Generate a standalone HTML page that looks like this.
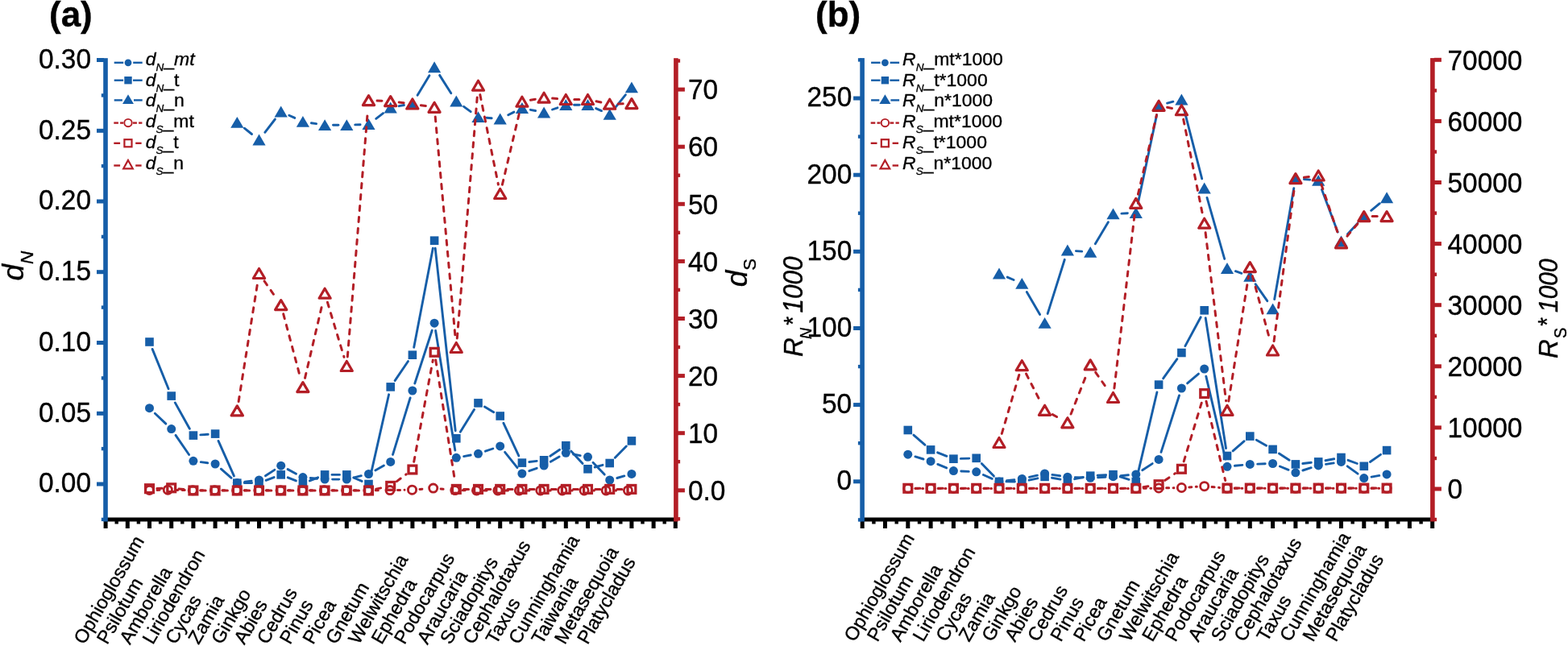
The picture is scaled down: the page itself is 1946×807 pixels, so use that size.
<!DOCTYPE html>
<html><head><meta charset="utf-8"><title>dN dS plots</title>
<style>html,body{margin:0;padding:0;background:#fff;} svg{display:block;} text{stroke:#000;stroke-width:0.35px;}</style>
</head><body>
<svg width="1946" height="807" viewBox="0 0 1946 807" font-family="'Liberation Sans', Arial, sans-serif">
<rect width="1946" height="807" fill="#fff"/>
<rect x="131.0" y="642.5" width="707.9" height="5" fill="#000"/>
<rect x="128.6" y="647" width="5" height="9" fill="#000"/>
<rect x="142.5" y="647" width="4.4" height="3.5" fill="#000"/>
<rect x="155.8" y="647" width="5" height="9" fill="#000"/>
<rect x="169.7" y="647" width="4.4" height="3.5" fill="#000"/>
<rect x="183.0" y="647" width="5" height="9" fill="#000"/>
<rect x="196.9" y="647" width="4.4" height="3.5" fill="#000"/>
<rect x="210.2" y="647" width="5" height="9" fill="#000"/>
<rect x="224.1" y="647" width="4.4" height="3.5" fill="#000"/>
<rect x="237.4" y="647" width="5" height="9" fill="#000"/>
<rect x="251.3" y="647" width="4.4" height="3.5" fill="#000"/>
<rect x="264.6" y="647" width="5" height="9" fill="#000"/>
<rect x="278.5" y="647" width="4.4" height="3.5" fill="#000"/>
<rect x="291.8" y="647" width="5" height="9" fill="#000"/>
<rect x="305.7" y="647" width="4.4" height="3.5" fill="#000"/>
<rect x="319.0" y="647" width="5" height="9" fill="#000"/>
<rect x="332.9" y="647" width="4.4" height="3.5" fill="#000"/>
<rect x="346.2" y="647" width="5" height="9" fill="#000"/>
<rect x="360.1" y="647" width="4.4" height="3.5" fill="#000"/>
<rect x="373.4" y="647" width="5" height="9" fill="#000"/>
<rect x="387.3" y="647" width="4.4" height="3.5" fill="#000"/>
<rect x="400.6" y="647" width="5" height="9" fill="#000"/>
<rect x="414.5" y="647" width="4.4" height="3.5" fill="#000"/>
<rect x="427.8" y="647" width="5" height="9" fill="#000"/>
<rect x="441.7" y="647" width="4.4" height="3.5" fill="#000"/>
<rect x="455.0" y="647" width="5" height="9" fill="#000"/>
<rect x="468.9" y="647" width="4.4" height="3.5" fill="#000"/>
<rect x="482.2" y="647" width="5" height="9" fill="#000"/>
<rect x="496.1" y="647" width="4.4" height="3.5" fill="#000"/>
<rect x="509.4" y="647" width="5" height="9" fill="#000"/>
<rect x="523.3" y="647" width="4.4" height="3.5" fill="#000"/>
<rect x="536.6" y="647" width="5" height="9" fill="#000"/>
<rect x="550.5" y="647" width="4.4" height="3.5" fill="#000"/>
<rect x="563.8" y="647" width="5" height="9" fill="#000"/>
<rect x="577.7" y="647" width="4.4" height="3.5" fill="#000"/>
<rect x="591.0" y="647" width="5" height="9" fill="#000"/>
<rect x="604.9" y="647" width="4.4" height="3.5" fill="#000"/>
<rect x="618.2" y="647" width="5" height="9" fill="#000"/>
<rect x="632.1" y="647" width="4.4" height="3.5" fill="#000"/>
<rect x="645.4" y="647" width="5" height="9" fill="#000"/>
<rect x="659.3" y="647" width="4.4" height="3.5" fill="#000"/>
<rect x="672.6" y="647" width="5" height="9" fill="#000"/>
<rect x="686.5" y="647" width="4.4" height="3.5" fill="#000"/>
<rect x="699.8" y="647" width="5" height="9" fill="#000"/>
<rect x="713.7" y="647" width="4.4" height="3.5" fill="#000"/>
<rect x="727.0" y="647" width="5" height="9" fill="#000"/>
<rect x="740.9" y="647" width="4.4" height="3.5" fill="#000"/>
<rect x="754.2" y="647" width="5" height="9" fill="#000"/>
<rect x="768.1" y="647" width="4.4" height="3.5" fill="#000"/>
<rect x="781.4" y="647" width="5" height="9" fill="#000"/>
<rect x="795.3" y="647" width="4.4" height="3.5" fill="#000"/>
<rect x="808.6" y="647" width="5" height="9" fill="#000"/>
<rect x="822.5" y="647" width="4.4" height="3.5" fill="#000"/>
<rect x="835.8" y="647" width="5" height="9" fill="#000"/>
<rect x="128.2" y="72.2" width="5.6" height="575.3" fill="#165ea8"/>
<rect x="120.0" y="598.5" width="9" height="5" fill="#165ea8"/>
<text transform="translate(113.0,611.3) scale(1,1.06)" font-size="33.4" text-anchor="end">0.00</text>
<rect x="120.0" y="510.8" width="9" height="5" fill="#165ea8"/>
<text transform="translate(113.0,523.5) scale(1,1.06)" font-size="33.4" text-anchor="end">0.05</text>
<rect x="120.0" y="423.0" width="9" height="5" fill="#165ea8"/>
<text transform="translate(113.0,435.8) scale(1,1.06)" font-size="33.4" text-anchor="end">0.10</text>
<rect x="120.0" y="335.2" width="9" height="5" fill="#165ea8"/>
<text transform="translate(113.0,348.1) scale(1,1.06)" font-size="33.4" text-anchor="end">0.15</text>
<rect x="120.0" y="247.5" width="9" height="5" fill="#165ea8"/>
<text transform="translate(113.0,260.3) scale(1,1.06)" font-size="33.4" text-anchor="end">0.20</text>
<rect x="120.0" y="159.8" width="9" height="5" fill="#165ea8"/>
<text transform="translate(113.0,172.6) scale(1,1.06)" font-size="33.4" text-anchor="end">0.25</text>
<rect x="120.0" y="72.0" width="9" height="5" fill="#165ea8"/>
<text transform="translate(113.0,84.8) scale(1,1.06)" font-size="33.4" text-anchor="end">0.30</text>
<rect x="125.8" y="642.7" width="4" height="4.4" fill="#165ea8"/>
<rect x="125.8" y="554.9" width="4" height="4.4" fill="#165ea8"/>
<rect x="125.8" y="467.2" width="4" height="4.4" fill="#165ea8"/>
<rect x="125.8" y="379.4" width="4" height="4.4" fill="#165ea8"/>
<rect x="125.8" y="291.7" width="4" height="4.4" fill="#165ea8"/>
<rect x="125.8" y="203.9" width="4" height="4.4" fill="#165ea8"/>
<rect x="125.8" y="116.2" width="4" height="4.4" fill="#165ea8"/>
<rect x="836.1" y="72.2" width="5.6" height="575.3" fill="#b31e26"/>
<rect x="840.9" y="606.3" width="9" height="5" fill="#b31e26"/>
<text transform="translate(854.0,621.0) scale(1,1.06)" font-size="33.4" text-anchor="start">0.0</text>
<rect x="840.9" y="535.2" width="9" height="5" fill="#b31e26"/>
<text transform="translate(854.0,549.9) scale(1,1.06)" font-size="33.4" text-anchor="start">10</text>
<rect x="840.9" y="464.1" width="9" height="5" fill="#b31e26"/>
<text transform="translate(854.0,478.8) scale(1,1.06)" font-size="33.4" text-anchor="start">20</text>
<rect x="840.9" y="393.0" width="9" height="5" fill="#b31e26"/>
<text transform="translate(854.0,407.7) scale(1,1.06)" font-size="33.4" text-anchor="start">30</text>
<rect x="840.9" y="321.9" width="9" height="5" fill="#b31e26"/>
<text transform="translate(854.0,336.6) scale(1,1.06)" font-size="33.4" text-anchor="start">40</text>
<rect x="840.9" y="250.8" width="9" height="5" fill="#b31e26"/>
<text transform="translate(854.0,265.5) scale(1,1.06)" font-size="33.4" text-anchor="start">50</text>
<rect x="840.9" y="179.7" width="9" height="5" fill="#b31e26"/>
<text transform="translate(854.0,194.4) scale(1,1.06)" font-size="33.4" text-anchor="start">60</text>
<rect x="840.9" y="108.6" width="9" height="5" fill="#b31e26"/>
<text transform="translate(854.0,123.3) scale(1,1.06)" font-size="33.4" text-anchor="start">70</text>
<rect x="840.1" y="642.1" width="4" height="4.4" fill="#b31e26"/>
<rect x="840.1" y="571.0" width="4" height="4.4" fill="#b31e26"/>
<rect x="840.1" y="499.9" width="4" height="4.4" fill="#b31e26"/>
<rect x="840.1" y="428.8" width="4" height="4.4" fill="#b31e26"/>
<rect x="840.1" y="357.7" width="4" height="4.4" fill="#b31e26"/>
<rect x="840.1" y="286.6" width="4" height="4.4" fill="#b31e26"/>
<rect x="840.1" y="215.5" width="4" height="4.4" fill="#b31e26"/>
<rect x="840.1" y="144.4" width="4" height="4.4" fill="#b31e26"/>
<rect x="840.1" y="73.3" width="4" height="4.4" fill="#b31e26"/>
<rect x="1070.1" y="642.5" width="707.8" height="5" fill="#000"/>
<rect x="1067.7" y="647" width="5" height="9" fill="#000"/>
<rect x="1082.2" y="647" width="4.4" height="3.5" fill="#000"/>
<rect x="1096.0" y="647" width="5" height="9" fill="#000"/>
<rect x="1110.5" y="647" width="4.4" height="3.5" fill="#000"/>
<rect x="1124.3" y="647" width="5" height="9" fill="#000"/>
<rect x="1138.8" y="647" width="4.4" height="3.5" fill="#000"/>
<rect x="1152.6" y="647" width="5" height="9" fill="#000"/>
<rect x="1167.1" y="647" width="4.4" height="3.5" fill="#000"/>
<rect x="1180.9" y="647" width="5" height="9" fill="#000"/>
<rect x="1195.4" y="647" width="4.4" height="3.5" fill="#000"/>
<rect x="1209.2" y="647" width="5" height="9" fill="#000"/>
<rect x="1223.7" y="647" width="4.4" height="3.5" fill="#000"/>
<rect x="1237.5" y="647" width="5" height="9" fill="#000"/>
<rect x="1252.0" y="647" width="4.4" height="3.5" fill="#000"/>
<rect x="1265.8" y="647" width="5" height="9" fill="#000"/>
<rect x="1280.2" y="647" width="4.4" height="3.5" fill="#000"/>
<rect x="1294.1" y="647" width="5" height="9" fill="#000"/>
<rect x="1308.6" y="647" width="4.4" height="3.5" fill="#000"/>
<rect x="1322.4" y="647" width="5" height="9" fill="#000"/>
<rect x="1336.9" y="647" width="4.4" height="3.5" fill="#000"/>
<rect x="1350.7" y="647" width="5" height="9" fill="#000"/>
<rect x="1365.2" y="647" width="4.4" height="3.5" fill="#000"/>
<rect x="1379.0" y="647" width="5" height="9" fill="#000"/>
<rect x="1393.5" y="647" width="4.4" height="3.5" fill="#000"/>
<rect x="1407.3" y="647" width="5" height="9" fill="#000"/>
<rect x="1421.8" y="647" width="4.4" height="3.5" fill="#000"/>
<rect x="1435.6" y="647" width="5" height="9" fill="#000"/>
<rect x="1450.1" y="647" width="4.4" height="3.5" fill="#000"/>
<rect x="1463.9" y="647" width="5" height="9" fill="#000"/>
<rect x="1478.4" y="647" width="4.4" height="3.5" fill="#000"/>
<rect x="1492.2" y="647" width="5" height="9" fill="#000"/>
<rect x="1506.7" y="647" width="4.4" height="3.5" fill="#000"/>
<rect x="1520.5" y="647" width="5" height="9" fill="#000"/>
<rect x="1535.0" y="647" width="4.4" height="3.5" fill="#000"/>
<rect x="1548.8" y="647" width="5" height="9" fill="#000"/>
<rect x="1563.3" y="647" width="4.4" height="3.5" fill="#000"/>
<rect x="1577.1" y="647" width="5" height="9" fill="#000"/>
<rect x="1591.6" y="647" width="4.4" height="3.5" fill="#000"/>
<rect x="1605.4" y="647" width="5" height="9" fill="#000"/>
<rect x="1619.9" y="647" width="4.4" height="3.5" fill="#000"/>
<rect x="1633.7" y="647" width="5" height="9" fill="#000"/>
<rect x="1648.2" y="647" width="4.4" height="3.5" fill="#000"/>
<rect x="1662.0" y="647" width="5" height="9" fill="#000"/>
<rect x="1676.5" y="647" width="4.4" height="3.5" fill="#000"/>
<rect x="1690.3" y="647" width="5" height="9" fill="#000"/>
<rect x="1704.8" y="647" width="4.4" height="3.5" fill="#000"/>
<rect x="1718.6" y="647" width="5" height="9" fill="#000"/>
<rect x="1733.0" y="647" width="4.4" height="3.5" fill="#000"/>
<rect x="1746.9" y="647" width="5" height="9" fill="#000"/>
<rect x="1761.4" y="647" width="4.4" height="3.5" fill="#000"/>
<rect x="1775.2" y="647" width="5" height="9" fill="#000"/>
<rect x="1067.3" y="72.1" width="5.6" height="575.4" fill="#165ea8"/>
<rect x="1059.1" y="595.3" width="9" height="5" fill="#165ea8"/>
<text transform="translate(1057.2,608.1) scale(1,1.06)" font-size="33.4" text-anchor="end">0</text>
<rect x="1059.1" y="500.1" width="9" height="5" fill="#165ea8"/>
<text transform="translate(1057.2,512.9) scale(1,1.06)" font-size="33.4" text-anchor="end">50</text>
<rect x="1059.1" y="405.0" width="9" height="5" fill="#165ea8"/>
<text transform="translate(1057.2,417.8) scale(1,1.06)" font-size="33.4" text-anchor="end">100</text>
<rect x="1059.1" y="309.8" width="9" height="5" fill="#165ea8"/>
<text transform="translate(1057.2,322.6) scale(1,1.06)" font-size="33.4" text-anchor="end">150</text>
<rect x="1059.1" y="214.7" width="9" height="5" fill="#165ea8"/>
<text transform="translate(1057.2,227.5) scale(1,1.06)" font-size="33.4" text-anchor="end">200</text>
<rect x="1059.1" y="119.5" width="9" height="5" fill="#165ea8"/>
<text transform="translate(1057.2,132.3) scale(1,1.06)" font-size="33.4" text-anchor="end">250</text>
<rect x="1064.9" y="643.2" width="4" height="4.4" fill="#165ea8"/>
<rect x="1064.9" y="548.0" width="4" height="4.4" fill="#165ea8"/>
<rect x="1064.9" y="452.9" width="4" height="4.4" fill="#165ea8"/>
<rect x="1064.9" y="357.7" width="4" height="4.4" fill="#165ea8"/>
<rect x="1064.9" y="262.5" width="4" height="4.4" fill="#165ea8"/>
<rect x="1064.9" y="167.4" width="4" height="4.4" fill="#165ea8"/>
<rect x="1064.9" y="72.2" width="4" height="4.4" fill="#165ea8"/>
<rect x="1775.1" y="72.1" width="5.6" height="575.4" fill="#b31e26"/>
<rect x="1779.9" y="604.5" width="9" height="5" fill="#b31e26"/>
<text transform="translate(1796.5,619.2) scale(1,1.06)" font-size="33.4" text-anchor="start">0</text>
<rect x="1779.9" y="528.4" width="9" height="5" fill="#b31e26"/>
<text transform="translate(1796.5,543.1) scale(1,1.06)" font-size="33.4" text-anchor="start">10000</text>
<rect x="1779.9" y="452.3" width="9" height="5" fill="#b31e26"/>
<text transform="translate(1796.5,467.0) scale(1,1.06)" font-size="33.4" text-anchor="start">20000</text>
<rect x="1779.9" y="376.2" width="9" height="5" fill="#b31e26"/>
<text transform="translate(1796.5,390.9) scale(1,1.06)" font-size="33.4" text-anchor="start">30000</text>
<rect x="1779.9" y="300.1" width="9" height="5" fill="#b31e26"/>
<text transform="translate(1796.5,314.8) scale(1,1.06)" font-size="33.4" text-anchor="start">40000</text>
<rect x="1779.9" y="224.0" width="9" height="5" fill="#b31e26"/>
<text transform="translate(1796.5,238.7) scale(1,1.06)" font-size="33.4" text-anchor="start">50000</text>
<rect x="1779.9" y="147.9" width="9" height="5" fill="#b31e26"/>
<text transform="translate(1796.5,162.6) scale(1,1.06)" font-size="33.4" text-anchor="start">60000</text>
<rect x="1779.9" y="71.8" width="9" height="5" fill="#b31e26"/>
<text transform="translate(1796.5,86.5) scale(1,1.06)" font-size="33.4" text-anchor="start">70000</text>
<rect x="1779.1" y="642.8" width="4" height="4.4" fill="#b31e26"/>
<rect x="1779.1" y="566.8" width="4" height="4.4" fill="#b31e26"/>
<rect x="1779.1" y="490.7" width="4" height="4.4" fill="#b31e26"/>
<rect x="1779.1" y="414.6" width="4" height="4.4" fill="#b31e26"/>
<rect x="1779.1" y="338.5" width="4" height="4.4" fill="#b31e26"/>
<rect x="1779.1" y="262.4" width="4" height="4.4" fill="#b31e26"/>
<rect x="1779.1" y="186.3" width="4" height="4.4" fill="#b31e26"/>
<rect x="1779.1" y="110.2" width="4" height="4.4" fill="#b31e26"/>
<line x1="192.3" y1="513.2" x2="205.9" y2="526.1" stroke="#165ea8" stroke-width="2.9" stroke-linecap="round"/>
<line x1="218.0" y1="540.4" x2="234.6" y2="564.5" stroke="#165ea8" stroke-width="2.9" stroke-linecap="round"/>
<line x1="249.3" y1="573.6" x2="257.7" y2="574.7" stroke="#165ea8" stroke-width="2.9" stroke-linecap="round"/>
<line x1="274.3" y1="582.2" x2="287.1" y2="593.3" stroke="#165ea8" stroke-width="2.9" stroke-linecap="round"/>
<line x1="303.7" y1="598.3" x2="312.1" y2="597.1" stroke="#165ea8" stroke-width="2.9" stroke-linecap="round"/>
<line x1="329.4" y1="590.7" x2="340.8" y2="583.4" stroke="#165ea8" stroke-width="2.9" stroke-linecap="round"/>
<line x1="357.1" y1="582.6" x2="367.5" y2="588.2" stroke="#165ea8" stroke-width="2.9" stroke-linecap="round"/>
<line x1="385.3" y1="593.5" x2="393.7" y2="594.2" stroke="#165ea8" stroke-width="2.9" stroke-linecap="round"/>
<line x1="412.6" y1="595.1" x2="420.8" y2="595.1" stroke="#165ea8" stroke-width="2.9" stroke-linecap="round"/>
<line x1="439.5" y1="592.9" x2="448.3" y2="590.7" stroke="#165ea8" stroke-width="2.9" stroke-linecap="round"/>
<line x1="465.8" y1="583.9" x2="476.4" y2="578.0" stroke="#165ea8" stroke-width="2.9" stroke-linecap="round"/>
<line x1="487.5" y1="564.4" x2="509.1" y2="494.0" stroke="#165ea8" stroke-width="2.9" stroke-linecap="round"/>
<line x1="514.8" y1="476.0" x2="536.2" y2="410.2" stroke="#165ea8" stroke-width="2.9" stroke-linecap="round"/>
<line x1="540.6" y1="410.5" x2="564.8" y2="559.0" stroke="#165ea8" stroke-width="2.9" stroke-linecap="round"/>
<line x1="575.6" y1="566.6" x2="584.2" y2="565.0" stroke="#165ea8" stroke-width="2.9" stroke-linecap="round"/>
<line x1="602.4" y1="560.2" x2="611.8" y2="557.0" stroke="#165ea8" stroke-width="2.9" stroke-linecap="round"/>
<line x1="626.6" y1="561.3" x2="642.0" y2="580.6" stroke="#165ea8" stroke-width="2.9" stroke-linecap="round"/>
<line x1="656.8" y1="584.7" x2="666.2" y2="581.3" stroke="#165ea8" stroke-width="2.9" stroke-linecap="round"/>
<line x1="683.3" y1="573.3" x2="694.1" y2="567.0" stroke="#165ea8" stroke-width="2.9" stroke-linecap="round"/>
<line x1="711.6" y1="564.0" x2="720.2" y2="565.6" stroke="#165ea8" stroke-width="2.9" stroke-linecap="round"/>
<line x1="736.0" y1="574.2" x2="750.2" y2="589.1" stroke="#165ea8" stroke-width="2.9" stroke-linecap="round"/>
<line x1="765.8" y1="593.5" x2="774.8" y2="590.9" stroke="#165ea8" stroke-width="2.9" stroke-linecap="round"/>
<circle cx="185.5" cy="506.7" r="5.50" fill="#165ea8"/>
<circle cx="212.7" cy="532.6" r="5.50" fill="#165ea8"/>
<circle cx="239.9" cy="572.3" r="5.50" fill="#165ea8"/>
<circle cx="267.1" cy="576.0" r="5.50" fill="#165ea8"/>
<circle cx="294.3" cy="599.5" r="5.50" fill="#165ea8"/>
<circle cx="321.5" cy="595.9" r="5.50" fill="#165ea8"/>
<circle cx="348.7" cy="578.2" r="5.50" fill="#165ea8"/>
<circle cx="375.9" cy="592.6" r="5.50" fill="#165ea8"/>
<circle cx="403.1" cy="595.1" r="5.50" fill="#165ea8"/>
<circle cx="430.3" cy="595.1" r="5.50" fill="#165ea8"/>
<circle cx="457.5" cy="588.5" r="5.50" fill="#165ea8"/>
<circle cx="484.7" cy="573.4" r="5.50" fill="#165ea8"/>
<circle cx="511.9" cy="485.0" r="5.50" fill="#165ea8"/>
<circle cx="539.1" cy="401.2" r="5.50" fill="#165ea8"/>
<circle cx="566.3" cy="568.3" r="5.50" fill="#165ea8"/>
<circle cx="593.5" cy="563.3" r="5.50" fill="#165ea8"/>
<circle cx="620.7" cy="553.9" r="5.50" fill="#165ea8"/>
<circle cx="647.9" cy="588.0" r="5.50" fill="#165ea8"/>
<circle cx="675.1" cy="578.0" r="5.50" fill="#165ea8"/>
<circle cx="702.3" cy="562.3" r="5.50" fill="#165ea8"/>
<circle cx="729.5" cy="567.3" r="5.50" fill="#165ea8"/>
<circle cx="756.7" cy="596.0" r="5.50" fill="#165ea8"/>
<circle cx="783.9" cy="588.4" r="5.50" fill="#165ea8"/>
<line x1="189.1" y1="433.4" x2="209.1" y2="482.7" stroke="#165ea8" stroke-width="2.9" stroke-linecap="round"/>
<line x1="217.3" y1="499.9" x2="235.3" y2="532.3" stroke="#165ea8" stroke-width="2.9" stroke-linecap="round"/>
<line x1="248.8" y1="539.9" x2="258.2" y2="539.3" stroke="#165ea8" stroke-width="2.9" stroke-linecap="round"/>
<line x1="271.0" y1="547.4" x2="290.4" y2="590.9" stroke="#165ea8" stroke-width="2.9" stroke-linecap="round"/>
<line x1="303.2" y1="599.6" x2="312.6" y2="599.6" stroke="#165ea8" stroke-width="2.9" stroke-linecap="round"/>
<line x1="330.1" y1="596.3" x2="340.1" y2="592.6" stroke="#165ea8" stroke-width="2.9" stroke-linecap="round"/>
<line x1="357.2" y1="592.8" x2="367.4" y2="596.9" stroke="#165ea8" stroke-width="2.9" stroke-linecap="round"/>
<line x1="384.4" y1="596.9" x2="394.6" y2="592.8" stroke="#165ea8" stroke-width="2.9" stroke-linecap="round"/>
<line x1="412.0" y1="589.4" x2="421.4" y2="589.4" stroke="#165ea8" stroke-width="2.9" stroke-linecap="round"/>
<line x1="438.7" y1="593.0" x2="449.1" y2="597.4" stroke="#165ea8" stroke-width="2.9" stroke-linecap="round"/>
<line x1="459.6" y1="591.6" x2="482.6" y2="489.8" stroke="#165ea8" stroke-width="2.9" stroke-linecap="round"/>
<line x1="490.1" y1="472.6" x2="506.5" y2="448.5" stroke="#165ea8" stroke-width="2.9" stroke-linecap="round"/>
<line x1="513.7" y1="431.2" x2="537.3" y2="308.2" stroke="#165ea8" stroke-width="2.9" stroke-linecap="round"/>
<line x1="540.2" y1="308.3" x2="565.2" y2="534.7" stroke="#165ea8" stroke-width="2.9" stroke-linecap="round"/>
<line x1="571.3" y1="536.2" x2="588.5" y2="508.5" stroke="#165ea8" stroke-width="2.9" stroke-linecap="round"/>
<line x1="601.5" y1="505.1" x2="612.7" y2="511.8" stroke="#165ea8" stroke-width="2.9" stroke-linecap="round"/>
<line x1="624.8" y1="525.2" x2="643.8" y2="565.9" stroke="#165ea8" stroke-width="2.9" stroke-linecap="round"/>
<line x1="656.8" y1="573.5" x2="666.2" y2="572.4" stroke="#165ea8" stroke-width="2.9" stroke-linecap="round"/>
<line x1="682.8" y1="566.2" x2="694.6" y2="558.3" stroke="#165ea8" stroke-width="2.9" stroke-linecap="round"/>
<line x1="708.7" y1="560.1" x2="723.1" y2="575.4" stroke="#165ea8" stroke-width="2.9" stroke-linecap="round"/>
<line x1="738.2" y1="580.0" x2="748.0" y2="577.3" stroke="#165ea8" stroke-width="2.9" stroke-linecap="round"/>
<line x1="763.3" y1="568.3" x2="777.3" y2="554.1" stroke="#165ea8" stroke-width="2.9" stroke-linecap="round"/>
<rect x="180.2" y="419.2" width="10.6" height="10.6" fill="#165ea8"/>
<rect x="207.4" y="486.3" width="10.6" height="10.6" fill="#165ea8"/>
<rect x="234.6" y="535.3" width="10.6" height="10.6" fill="#165ea8"/>
<rect x="261.8" y="533.3" width="10.6" height="10.6" fill="#165ea8"/>
<rect x="289.0" y="594.4" width="10.6" height="10.6" fill="#165ea8"/>
<rect x="316.2" y="594.2" width="10.6" height="10.6" fill="#165ea8"/>
<rect x="343.4" y="584.1" width="10.6" height="10.6" fill="#165ea8"/>
<rect x="370.6" y="595.0" width="10.6" height="10.6" fill="#165ea8"/>
<rect x="397.8" y="584.1" width="10.6" height="10.6" fill="#165ea8"/>
<rect x="425.0" y="584.1" width="10.6" height="10.6" fill="#165ea8"/>
<rect x="452.2" y="595.7" width="10.6" height="10.6" fill="#165ea8"/>
<rect x="479.4" y="475.1" width="10.6" height="10.6" fill="#165ea8"/>
<rect x="506.6" y="435.4" width="10.6" height="10.6" fill="#165ea8"/>
<rect x="533.8" y="293.4" width="10.6" height="10.6" fill="#165ea8"/>
<rect x="561.0" y="539.0" width="10.6" height="10.6" fill="#165ea8"/>
<rect x="588.2" y="495.1" width="10.6" height="10.6" fill="#165ea8"/>
<rect x="615.4" y="511.2" width="10.6" height="10.6" fill="#165ea8"/>
<rect x="642.6" y="569.3" width="10.6" height="10.6" fill="#165ea8"/>
<rect x="669.8" y="566.0" width="10.6" height="10.6" fill="#165ea8"/>
<rect x="697.0" y="547.9" width="10.6" height="10.6" fill="#165ea8"/>
<rect x="724.2" y="577.0" width="10.6" height="10.6" fill="#165ea8"/>
<rect x="751.4" y="569.7" width="10.6" height="10.6" fill="#165ea8"/>
<rect x="778.6" y="542.1" width="10.6" height="10.6" fill="#165ea8"/>
<line x1="303.3" y1="159.2" x2="312.5" y2="166.5" stroke="#165ea8" stroke-width="2.9" stroke-linecap="round"/>
<line x1="328.8" y1="164.3" x2="341.4" y2="148.0" stroke="#165ea8" stroke-width="2.9" stroke-linecap="round"/>
<line x1="358.8" y1="143.2" x2="365.8" y2="146.4" stroke="#165ea8" stroke-width="2.9" stroke-linecap="round"/>
<line x1="386.4" y1="152.7" x2="392.6" y2="153.6" stroke="#165ea8" stroke-width="2.9" stroke-linecap="round"/>
<line x1="413.5" y1="155.3" x2="419.9" y2="155.3" stroke="#165ea8" stroke-width="2.9" stroke-linecap="round"/>
<line x1="440.7" y1="154.9" x2="447.1" y2="154.7" stroke="#165ea8" stroke-width="2.9" stroke-linecap="round"/>
<line x1="466.7" y1="147.3" x2="475.5" y2="140.6" stroke="#165ea8" stroke-width="2.9" stroke-linecap="round"/>
<line x1="495.2" y1="131.7" x2="501.4" y2="130.5" stroke="#165ea8" stroke-width="2.9" stroke-linecap="round"/>
<line x1="518.1" y1="118.3" x2="532.9" y2="93.7" stroke="#165ea8" stroke-width="2.9" stroke-linecap="round"/>
<line x1="545.6" y1="93.4" x2="559.8" y2="115.7" stroke="#165ea8" stroke-width="2.9" stroke-linecap="round"/>
<line x1="575.6" y1="132.4" x2="584.2" y2="138.6" stroke="#165ea8" stroke-width="2.9" stroke-linecap="round"/>
<line x1="604.0" y1="146.2" x2="610.2" y2="146.7" stroke="#165ea8" stroke-width="2.9" stroke-linecap="round"/>
<line x1="630.7" y1="142.7" x2="637.9" y2="139.1" stroke="#165ea8" stroke-width="2.9" stroke-linecap="round"/>
<line x1="658.4" y1="136.3" x2="664.6" y2="137.5" stroke="#165ea8" stroke-width="2.9" stroke-linecap="round"/>
<line x1="685.5" y1="136.0" x2="691.9" y2="133.8" stroke="#165ea8" stroke-width="2.9" stroke-linecap="round"/>
<line x1="712.6" y1="130.2" x2="719.1" y2="130.2" stroke="#165ea8" stroke-width="2.9" stroke-linecap="round"/>
<line x1="739.7" y1="134.6" x2="746.5" y2="137.6" stroke="#165ea8" stroke-width="2.9" stroke-linecap="round"/>
<line x1="764.2" y1="132.8" x2="776.4" y2="117.7" stroke="#165ea8" stroke-width="2.9" stroke-linecap="round"/>
<polygon points="294.3,144.9 286.2,158.8 302.4,158.8" fill="#165ea8"/>
<polygon points="321.5,166.6 313.4,180.5 329.6,180.5" fill="#165ea8"/>
<polygon points="348.7,131.5 340.6,145.4 356.8,145.4" fill="#165ea8"/>
<polygon points="375.9,143.9 367.8,157.8 384.0,157.8" fill="#165ea8"/>
<polygon points="403.1,148.2 395.0,162.1 411.2,162.1" fill="#165ea8"/>
<polygon points="430.3,148.2 422.2,162.1 438.4,162.1" fill="#165ea8"/>
<polygon points="457.5,147.2 449.4,161.1 465.6,161.1" fill="#165ea8"/>
<polygon points="484.7,126.5 476.6,140.4 492.8,140.4" fill="#165ea8"/>
<polygon points="511.9,121.5 503.8,135.4 520.0,135.4" fill="#165ea8"/>
<polygon points="539.1,76.3 531.0,90.2 547.2,90.2" fill="#165ea8"/>
<polygon points="566.3,118.6 558.2,132.5 574.4,132.5" fill="#165ea8"/>
<polygon points="593.5,138.2 585.4,152.1 601.6,152.1" fill="#165ea8"/>
<polygon points="620.7,140.5 612.6,154.4 628.8,154.4" fill="#165ea8"/>
<polygon points="647.9,127.1 639.8,141.0 656.0,141.0" fill="#165ea8"/>
<polygon points="675.1,132.5 667.0,146.4 683.2,146.4" fill="#165ea8"/>
<polygon points="702.3,123.1 694.2,137.0 710.4,137.0" fill="#165ea8"/>
<polygon points="729.5,123.1 721.4,137.0 737.6,137.0" fill="#165ea8"/>
<polygon points="756.7,134.9 748.6,148.8 764.8,148.8" fill="#165ea8"/>
<polygon points="783.9,101.4 775.8,115.3 792.0,115.3" fill="#165ea8"/>
<line x1="195.0" y1="608.4" x2="198.8" y2="608.3" stroke="#b31e26" stroke-width="3" stroke-dasharray="3 5.5" stroke-dashoffset="0" stroke-linecap="round"/>
<line x1="217.8" y1="608.4" x2="229.7" y2="608.6" stroke="#b31e26" stroke-width="3" stroke-dasharray="3 5.5" stroke-dashoffset="0" stroke-linecap="round"/>
<line x1="248.7" y1="608.8" x2="257.0" y2="608.8" stroke="#b31e26" stroke-width="3" stroke-dasharray="3 5.5" stroke-dashoffset="0" stroke-linecap="round"/>
<line x1="275.9" y1="608.8" x2="284.2" y2="608.8" stroke="#b31e26" stroke-width="3" stroke-dasharray="3 5.5" stroke-dashoffset="0" stroke-linecap="round"/>
<line x1="303.1" y1="608.8" x2="311.4" y2="608.8" stroke="#b31e26" stroke-width="3" stroke-dasharray="3 5.5" stroke-dashoffset="0" stroke-linecap="round"/>
<line x1="330.2" y1="608.8" x2="338.6" y2="608.8" stroke="#b31e26" stroke-width="3" stroke-dasharray="3 5.5" stroke-dashoffset="0" stroke-linecap="round"/>
<line x1="357.4" y1="608.8" x2="365.8" y2="608.8" stroke="#b31e26" stroke-width="3" stroke-dasharray="3 5.5" stroke-dashoffset="0" stroke-linecap="round"/>
<line x1="384.6" y1="608.8" x2="393.0" y2="608.8" stroke="#b31e26" stroke-width="3" stroke-dasharray="3 5.5" stroke-dashoffset="0" stroke-linecap="round"/>
<line x1="411.9" y1="608.8" x2="420.1" y2="608.8" stroke="#b31e26" stroke-width="3" stroke-dasharray="3 5.5" stroke-dashoffset="0" stroke-linecap="round"/>
<line x1="439.0" y1="608.8" x2="447.4" y2="608.8" stroke="#b31e26" stroke-width="3" stroke-dasharray="3 5.5" stroke-dashoffset="0" stroke-linecap="round"/>
<line x1="466.3" y1="608.7" x2="474.5" y2="608.7" stroke="#b31e26" stroke-width="3" stroke-dasharray="3 5.5" stroke-dashoffset="0" stroke-linecap="round"/>
<line x1="493.5" y1="608.5" x2="502.0" y2="608.3" stroke="#b31e26" stroke-width="3" stroke-dasharray="3 5.5" stroke-dashoffset="0" stroke-linecap="round"/>
<line x1="520.9" y1="607.4" x2="528.3" y2="606.9" stroke="#b31e26" stroke-width="3" stroke-dasharray="3 5.5" stroke-dashoffset="0" stroke-linecap="round"/>
<line x1="547.1" y1="607.0" x2="555.4" y2="607.7" stroke="#b31e26" stroke-width="3" stroke-dasharray="3 5.5" stroke-dashoffset="0" stroke-linecap="round"/>
<line x1="574.3" y1="608.7" x2="582.0" y2="608.8" stroke="#b31e26" stroke-width="3" stroke-dasharray="3 5.5" stroke-dashoffset="0" stroke-linecap="round"/>
<line x1="601.0" y1="608.9" x2="608.5" y2="608.9" stroke="#b31e26" stroke-width="3" stroke-dasharray="3 5.5" stroke-dashoffset="0" stroke-linecap="round"/>
<line x1="627.4" y1="608.9" x2="634.9" y2="608.9" stroke="#b31e26" stroke-width="3" stroke-dasharray="3 5.5" stroke-dashoffset="0" stroke-linecap="round"/>
<line x1="653.9" y1="608.9" x2="661.3" y2="608.9" stroke="#b31e26" stroke-width="3" stroke-dasharray="3 5.5" stroke-dashoffset="0" stroke-linecap="round"/>
<line x1="680.2" y1="608.9" x2="688.3" y2="608.9" stroke="#b31e26" stroke-width="3" stroke-dasharray="3 5.5" stroke-dashoffset="0" stroke-linecap="round"/>
<line x1="707.2" y1="608.9" x2="715.5" y2="608.9" stroke="#b31e26" stroke-width="3" stroke-dasharray="3 5.5" stroke-dashoffset="0" stroke-linecap="round"/>
<line x1="734.5" y1="608.9" x2="742.7" y2="608.9" stroke="#b31e26" stroke-width="3" stroke-dasharray="3 5.5" stroke-dashoffset="0" stroke-linecap="round"/>
<line x1="761.6" y1="608.9" x2="769.9" y2="608.9" stroke="#b31e26" stroke-width="3" stroke-dasharray="3 5.5" stroke-dashoffset="0" stroke-linecap="round"/>
<circle cx="185.5" cy="608.5" r="5.10" fill="none" stroke="#b31e26" stroke-width="2.80"/>
<circle cx="208.3" cy="608.2" r="5.10" fill="none" stroke="#b31e26" stroke-width="2.80"/>
<circle cx="239.2" cy="608.8" r="5.10" fill="none" stroke="#b31e26" stroke-width="2.80"/>
<circle cx="266.4" cy="608.8" r="5.10" fill="none" stroke="#b31e26" stroke-width="2.80"/>
<circle cx="293.6" cy="608.8" r="5.10" fill="none" stroke="#b31e26" stroke-width="2.80"/>
<circle cx="320.8" cy="608.8" r="5.10" fill="none" stroke="#b31e26" stroke-width="2.80"/>
<circle cx="348.0" cy="608.8" r="5.10" fill="none" stroke="#b31e26" stroke-width="2.80"/>
<circle cx="375.2" cy="608.8" r="5.10" fill="none" stroke="#b31e26" stroke-width="2.80"/>
<circle cx="402.4" cy="608.8" r="5.10" fill="none" stroke="#b31e26" stroke-width="2.80"/>
<circle cx="429.6" cy="608.8" r="5.10" fill="none" stroke="#b31e26" stroke-width="2.80"/>
<circle cx="456.8" cy="608.8" r="5.10" fill="none" stroke="#b31e26" stroke-width="2.80"/>
<circle cx="484.0" cy="608.6" r="5.10" fill="none" stroke="#b31e26" stroke-width="2.80"/>
<circle cx="511.5" cy="608.2" r="5.10" fill="none" stroke="#b31e26" stroke-width="2.80"/>
<circle cx="537.7" cy="606.1" r="5.10" fill="none" stroke="#b31e26" stroke-width="2.80"/>
<circle cx="564.8" cy="608.6" r="5.10" fill="none" stroke="#b31e26" stroke-width="2.80"/>
<circle cx="591.5" cy="608.9" r="5.10" fill="none" stroke="#b31e26" stroke-width="2.80"/>
<circle cx="617.9" cy="608.9" r="5.10" fill="none" stroke="#b31e26" stroke-width="2.80"/>
<circle cx="644.4" cy="608.9" r="5.10" fill="none" stroke="#b31e26" stroke-width="2.80"/>
<circle cx="670.8" cy="608.9" r="5.10" fill="none" stroke="#b31e26" stroke-width="2.80"/>
<circle cx="697.8" cy="608.9" r="5.10" fill="none" stroke="#b31e26" stroke-width="2.80"/>
<circle cx="725.0" cy="608.9" r="5.10" fill="none" stroke="#b31e26" stroke-width="2.80"/>
<circle cx="752.2" cy="608.9" r="5.10" fill="none" stroke="#b31e26" stroke-width="2.80"/>
<circle cx="779.4" cy="608.9" r="5.10" fill="none" stroke="#b31e26" stroke-width="2.80"/>
<line x1="194.8" y1="606.4" x2="203.4" y2="606.1" stroke="#b31e26" stroke-width="3" stroke-dasharray="6 8" stroke-dashoffset="0" stroke-linecap="round"/>
<line x1="222.0" y1="606.9" x2="230.6" y2="607.9" stroke="#b31e26" stroke-width="3" stroke-dasharray="6 8" stroke-dashoffset="0" stroke-linecap="round"/>
<line x1="249.2" y1="609.0" x2="257.9" y2="609.0" stroke="#b31e26" stroke-width="3" stroke-dasharray="6 8" stroke-dashoffset="0" stroke-linecap="round"/>
<line x1="276.4" y1="609.0" x2="285.1" y2="609.0" stroke="#b31e26" stroke-width="3" stroke-dasharray="6 8" stroke-dashoffset="0" stroke-linecap="round"/>
<line x1="303.6" y1="609.0" x2="312.2" y2="609.0" stroke="#b31e26" stroke-width="3" stroke-dasharray="6 8" stroke-dashoffset="0" stroke-linecap="round"/>
<line x1="330.8" y1="609.0" x2="339.4" y2="609.0" stroke="#b31e26" stroke-width="3" stroke-dasharray="6 8" stroke-dashoffset="0" stroke-linecap="round"/>
<line x1="357.9" y1="609.0" x2="366.6" y2="609.0" stroke="#b31e26" stroke-width="3" stroke-dasharray="6 8" stroke-dashoffset="0" stroke-linecap="round"/>
<line x1="385.1" y1="609.0" x2="393.9" y2="609.0" stroke="#b31e26" stroke-width="3" stroke-dasharray="6 8" stroke-dashoffset="0" stroke-linecap="round"/>
<line x1="412.4" y1="609.0" x2="421.0" y2="609.0" stroke="#b31e26" stroke-width="3" stroke-dasharray="6 8" stroke-dashoffset="0" stroke-linecap="round"/>
<line x1="439.5" y1="609.0" x2="448.2" y2="609.0" stroke="#b31e26" stroke-width="3" stroke-dasharray="6 8" stroke-dashoffset="0" stroke-linecap="round"/>
<line x1="466.7" y1="607.1" x2="475.5" y2="605.3" stroke="#b31e26" stroke-width="3" stroke-dasharray="6 8" stroke-dashoffset="0" stroke-linecap="round"/>
<line x1="492.4" y1="597.6" x2="504.2" y2="588.8" stroke="#b31e26" stroke-width="3" stroke-dasharray="6 8" stroke-dashoffset="0" stroke-linecap="round"/>
<line x1="513.7" y1="573.3" x2="537.3" y2="447.0" stroke="#b31e26" stroke-width="3" stroke-dasharray="6 8" stroke-dashoffset="0" stroke-linecap="round"/>
<line x1="540.7" y1="447.0" x2="564.7" y2="597.7" stroke="#b31e26" stroke-width="3" stroke-dasharray="6 8" stroke-dashoffset="0" stroke-linecap="round"/>
<line x1="575.5" y1="607.4" x2="584.2" y2="607.4" stroke="#b31e26" stroke-width="3" stroke-dasharray="6 8" stroke-dashoffset="0" stroke-linecap="round"/>
<line x1="602.8" y1="607.4" x2="611.5" y2="607.4" stroke="#b31e26" stroke-width="3" stroke-dasharray="6 8" stroke-dashoffset="0" stroke-linecap="round"/>
<line x1="630.0" y1="607.4" x2="638.6" y2="607.4" stroke="#b31e26" stroke-width="3" stroke-dasharray="6 8" stroke-dashoffset="0" stroke-linecap="round"/>
<line x1="657.1" y1="607.4" x2="665.8" y2="607.4" stroke="#b31e26" stroke-width="3" stroke-dasharray="6 8" stroke-dashoffset="0" stroke-linecap="round"/>
<line x1="684.3" y1="607.4" x2="693.0" y2="607.4" stroke="#b31e26" stroke-width="3" stroke-dasharray="6 8" stroke-dashoffset="0" stroke-linecap="round"/>
<line x1="711.5" y1="607.4" x2="720.2" y2="607.4" stroke="#b31e26" stroke-width="3" stroke-dasharray="6 8" stroke-dashoffset="0" stroke-linecap="round"/>
<line x1="738.8" y1="607.4" x2="747.4" y2="607.4" stroke="#b31e26" stroke-width="3" stroke-dasharray="6 8" stroke-dashoffset="0" stroke-linecap="round"/>
<line x1="765.9" y1="607.4" x2="774.6" y2="607.4" stroke="#b31e26" stroke-width="3" stroke-dasharray="6 8" stroke-dashoffset="0" stroke-linecap="round"/>
<rect x="180.6" y="601.8" width="9.8" height="9.8" fill="none" stroke="#b31e26" stroke-width="3.30"/>
<rect x="207.8" y="600.9" width="9.8" height="9.8" fill="none" stroke="#b31e26" stroke-width="3.30"/>
<rect x="235.0" y="604.1" width="9.8" height="9.8" fill="none" stroke="#b31e26" stroke-width="3.30"/>
<rect x="262.2" y="604.1" width="9.8" height="9.8" fill="none" stroke="#b31e26" stroke-width="3.30"/>
<rect x="289.4" y="604.1" width="9.8" height="9.8" fill="none" stroke="#b31e26" stroke-width="3.30"/>
<rect x="316.6" y="604.1" width="9.8" height="9.8" fill="none" stroke="#b31e26" stroke-width="3.30"/>
<rect x="343.8" y="604.1" width="9.8" height="9.8" fill="none" stroke="#b31e26" stroke-width="3.30"/>
<rect x="371.0" y="604.1" width="9.8" height="9.8" fill="none" stroke="#b31e26" stroke-width="3.30"/>
<rect x="398.2" y="604.1" width="9.8" height="9.8" fill="none" stroke="#b31e26" stroke-width="3.30"/>
<rect x="425.4" y="604.1" width="9.8" height="9.8" fill="none" stroke="#b31e26" stroke-width="3.30"/>
<rect x="452.6" y="604.1" width="9.8" height="9.8" fill="none" stroke="#b31e26" stroke-width="3.30"/>
<rect x="479.8" y="598.5" width="9.8" height="9.8" fill="none" stroke="#b31e26" stroke-width="3.30"/>
<rect x="507.0" y="578.1" width="9.8" height="9.8" fill="none" stroke="#b31e26" stroke-width="3.30"/>
<rect x="534.2" y="432.4" width="9.8" height="9.8" fill="none" stroke="#b31e26" stroke-width="3.30"/>
<rect x="561.4" y="602.5" width="9.8" height="9.8" fill="none" stroke="#b31e26" stroke-width="3.30"/>
<rect x="588.6" y="602.5" width="9.8" height="9.8" fill="none" stroke="#b31e26" stroke-width="3.30"/>
<rect x="615.8" y="602.5" width="9.8" height="9.8" fill="none" stroke="#b31e26" stroke-width="3.30"/>
<rect x="643.0" y="602.5" width="9.8" height="9.8" fill="none" stroke="#b31e26" stroke-width="3.30"/>
<rect x="670.2" y="602.5" width="9.8" height="9.8" fill="none" stroke="#b31e26" stroke-width="3.30"/>
<rect x="697.4" y="602.5" width="9.8" height="9.8" fill="none" stroke="#b31e26" stroke-width="3.30"/>
<rect x="724.6" y="602.5" width="9.8" height="9.8" fill="none" stroke="#b31e26" stroke-width="3.30"/>
<rect x="751.8" y="602.5" width="9.8" height="9.8" fill="none" stroke="#b31e26" stroke-width="3.30"/>
<rect x="779.0" y="602.5" width="9.8" height="9.8" fill="none" stroke="#b31e26" stroke-width="3.30"/>
<line x1="296.1" y1="498.4" x2="319.7" y2="351.0" stroke="#b31e26" stroke-width="3" stroke-dasharray="6 8" stroke-dashoffset="0" stroke-linecap="round"/>
<line x1="328.0" y1="348.9" x2="342.2" y2="369.2" stroke="#b31e26" stroke-width="3" stroke-dasharray="6 8" stroke-dashoffset="0" stroke-linecap="round"/>
<line x1="351.7" y1="389.8" x2="372.9" y2="469.4" stroke="#b31e26" stroke-width="3" stroke-dasharray="6 8" stroke-dashoffset="0" stroke-linecap="round"/>
<line x1="378.5" y1="469.3" x2="400.5" y2="375.5" stroke="#b31e26" stroke-width="3" stroke-dasharray="6 8" stroke-dashoffset="0" stroke-linecap="round"/>
<line x1="406.4" y1="375.3" x2="427.0" y2="443.4" stroke="#b31e26" stroke-width="3" stroke-dasharray="6 8" stroke-dashoffset="0" stroke-linecap="round"/>
<line x1="431.3" y1="442.9" x2="456.5" y2="136.2" stroke="#b31e26" stroke-width="3" stroke-dasharray="6 8" stroke-dashoffset="0" stroke-linecap="round"/>
<line x1="468.0" y1="125.0" x2="474.2" y2="125.2" stroke="#b31e26" stroke-width="3" stroke-dasharray="6 8" stroke-dashoffset="0" stroke-linecap="round"/>
<line x1="495.2" y1="126.9" x2="501.4" y2="127.7" stroke="#b31e26" stroke-width="3" stroke-dasharray="6 8" stroke-dashoffset="0" stroke-linecap="round"/>
<line x1="522.4" y1="130.7" x2="528.6" y2="131.6" stroke="#b31e26" stroke-width="3" stroke-dasharray="6 8" stroke-dashoffset="0" stroke-linecap="round"/>
<line x1="540.2" y1="144.9" x2="565.2" y2="419.9" stroke="#b31e26" stroke-width="3" stroke-dasharray="6 8" stroke-dashoffset="0" stroke-linecap="round"/>
<line x1="567.3" y1="419.9" x2="592.5" y2="117.8" stroke="#b31e26" stroke-width="3" stroke-dasharray="6 8" stroke-dashoffset="0" stroke-linecap="round"/>
<line x1="595.8" y1="117.6" x2="618.4" y2="229.1" stroke="#b31e26" stroke-width="3" stroke-dasharray="6 8" stroke-dashoffset="0" stroke-linecap="round"/>
<line x1="623.4" y1="229.2" x2="645.2" y2="137.5" stroke="#b31e26" stroke-width="3" stroke-dasharray="6 8" stroke-dashoffset="0" stroke-linecap="round"/>
<line x1="658.4" y1="124.3" x2="664.6" y2="123.1" stroke="#b31e26" stroke-width="3" stroke-dasharray="6 8" stroke-dashoffset="0" stroke-linecap="round"/>
<line x1="685.6" y1="122.1" x2="691.8" y2="122.6" stroke="#b31e26" stroke-width="3" stroke-dasharray="6 8" stroke-dashoffset="0" stroke-linecap="round"/>
<line x1="712.8" y1="123.5" x2="719.0" y2="123.5" stroke="#b31e26" stroke-width="3" stroke-dasharray="6 8" stroke-dashoffset="0" stroke-linecap="round"/>
<line x1="740.0" y1="125.7" x2="746.2" y2="127.0" stroke="#b31e26" stroke-width="3" stroke-dasharray="6 8" stroke-dashoffset="0" stroke-linecap="round"/>
<line x1="767.2" y1="129.0" x2="773.4" y2="128.8" stroke="#b31e26" stroke-width="3" stroke-dasharray="6 8" stroke-dashoffset="0" stroke-linecap="round"/>
<polygon points="294.3,503.9 287.2,515.9 301.4,515.9" fill="none" stroke="#b31e26" stroke-width="3.2" stroke-linejoin="round"/>
<polygon points="321.5,333.5 314.4,345.5 328.6,345.5" fill="none" stroke="#b31e26" stroke-width="3.2" stroke-linejoin="round"/>
<polygon points="348.7,372.6 341.6,384.6 355.8,384.6" fill="none" stroke="#b31e26" stroke-width="3.2" stroke-linejoin="round"/>
<polygon points="375.9,474.6 368.8,486.6 382.9,486.6" fill="none" stroke="#b31e26" stroke-width="3.2" stroke-linejoin="round"/>
<polygon points="403.1,358.2 396.1,370.2 410.2,370.2" fill="none" stroke="#b31e26" stroke-width="3.2" stroke-linejoin="round"/>
<polygon points="430.3,448.5 423.2,460.5 437.3,460.5" fill="none" stroke="#b31e26" stroke-width="3.2" stroke-linejoin="round"/>
<polygon points="457.5,118.6 450.4,130.6 464.6,130.6" fill="none" stroke="#b31e26" stroke-width="3.2" stroke-linejoin="round"/>
<polygon points="484.7,119.6 477.6,131.6 491.8,131.6" fill="none" stroke="#b31e26" stroke-width="3.2" stroke-linejoin="round"/>
<polygon points="511.9,123.0 504.8,135.0 518.9,135.0" fill="none" stroke="#b31e26" stroke-width="3.2" stroke-linejoin="round"/>
<polygon points="539.1,127.3 532.0,139.3 546.1,139.3" fill="none" stroke="#b31e26" stroke-width="3.2" stroke-linejoin="round"/>
<polygon points="566.3,425.5 559.2,437.5 573.3,437.5" fill="none" stroke="#b31e26" stroke-width="3.2" stroke-linejoin="round"/>
<polygon points="593.5,100.2 586.5,112.2 600.5,112.2" fill="none" stroke="#b31e26" stroke-width="3.2" stroke-linejoin="round"/>
<polygon points="620.7,234.5 613.7,246.5 627.8,246.5" fill="none" stroke="#b31e26" stroke-width="3.2" stroke-linejoin="round"/>
<polygon points="647.9,120.2 640.9,132.2 654.9,132.2" fill="none" stroke="#b31e26" stroke-width="3.2" stroke-linejoin="round"/>
<polygon points="675.1,115.2 668.0,127.2 682.1,127.2" fill="none" stroke="#b31e26" stroke-width="3.2" stroke-linejoin="round"/>
<polygon points="702.3,117.5 695.2,129.5 709.3,129.5" fill="none" stroke="#b31e26" stroke-width="3.2" stroke-linejoin="round"/>
<polygon points="729.5,117.5 722.5,129.5 736.5,129.5" fill="none" stroke="#b31e26" stroke-width="3.2" stroke-linejoin="round"/>
<polygon points="756.7,123.2 749.6,135.2 763.7,135.2" fill="none" stroke="#b31e26" stroke-width="3.2" stroke-linejoin="round"/>
<polygon points="783.9,122.6 776.9,134.6 790.9,134.6" fill="none" stroke="#b31e26" stroke-width="3.2" stroke-linejoin="round"/>
<line x1="1135.9" y1="566.9" x2="1146.0" y2="570.0" stroke="#165ea8" stroke-width="2.9" stroke-linecap="round"/>
<line x1="1163.8" y1="576.4" x2="1174.7" y2="580.9" stroke="#165ea8" stroke-width="2.9" stroke-linecap="round"/>
<line x1="1192.8" y1="585.0" x2="1202.3" y2="585.4" stroke="#165ea8" stroke-width="2.9" stroke-linecap="round"/>
<line x1="1220.4" y1="589.5" x2="1231.3" y2="594.3" stroke="#165ea8" stroke-width="2.9" stroke-linecap="round"/>
<line x1="1249.4" y1="596.8" x2="1258.9" y2="595.7" stroke="#165ea8" stroke-width="2.9" stroke-linecap="round"/>
<line x1="1277.5" y1="592.4" x2="1287.4" y2="590.1" stroke="#165ea8" stroke-width="2.9" stroke-linecap="round"/>
<line x1="1305.9" y1="589.4" x2="1315.6" y2="590.8" stroke="#165ea8" stroke-width="2.9" stroke-linecap="round"/>
<line x1="1334.3" y1="592.6" x2="1343.8" y2="592.9" stroke="#165ea8" stroke-width="2.9" stroke-linecap="round"/>
<line x1="1362.6" y1="592.8" x2="1372.1" y2="592.2" stroke="#165ea8" stroke-width="2.9" stroke-linecap="round"/>
<line x1="1390.9" y1="590.8" x2="1400.4" y2="589.8" stroke="#165ea8" stroke-width="2.9" stroke-linecap="round"/>
<line x1="1417.7" y1="583.7" x2="1430.2" y2="575.6" stroke="#165ea8" stroke-width="2.9" stroke-linecap="round"/>
<line x1="1441.0" y1="561.4" x2="1463.5" y2="491.0" stroke="#165ea8" stroke-width="2.9" stroke-linecap="round"/>
<line x1="1473.6" y1="475.9" x2="1487.5" y2="464.1" stroke="#165ea8" stroke-width="2.9" stroke-linecap="round"/>
<line x1="1496.8" y1="467.2" x2="1520.9" y2="570.1" stroke="#165ea8" stroke-width="2.9" stroke-linecap="round"/>
<line x1="1532.4" y1="578.3" x2="1541.9" y2="577.4" stroke="#165ea8" stroke-width="2.9" stroke-linecap="round"/>
<line x1="1560.7" y1="576.1" x2="1570.2" y2="575.8" stroke="#165ea8" stroke-width="2.9" stroke-linecap="round"/>
<line x1="1588.4" y1="579.0" x2="1599.1" y2="583.3" stroke="#165ea8" stroke-width="2.9" stroke-linecap="round"/>
<line x1="1616.9" y1="584.0" x2="1627.2" y2="580.7" stroke="#165ea8" stroke-width="2.9" stroke-linecap="round"/>
<line x1="1645.5" y1="576.4" x2="1655.2" y2="574.9" stroke="#165ea8" stroke-width="2.9" stroke-linecap="round"/>
<line x1="1672.2" y1="578.9" x2="1685.1" y2="588.1" stroke="#165ea8" stroke-width="2.9" stroke-linecap="round"/>
<line x1="1702.1" y1="592.1" x2="1711.8" y2="590.4" stroke="#165ea8" stroke-width="2.9" stroke-linecap="round"/>
<circle cx="1126.8" cy="564.2" r="5.50" fill="#165ea8"/>
<circle cx="1155.1" cy="572.7" r="5.50" fill="#165ea8"/>
<circle cx="1183.4" cy="584.6" r="5.50" fill="#165ea8"/>
<circle cx="1211.7" cy="585.8" r="5.50" fill="#165ea8"/>
<circle cx="1240.0" cy="598.0" r="5.50" fill="#165ea8"/>
<circle cx="1268.3" cy="594.5" r="5.50" fill="#165ea8"/>
<circle cx="1296.6" cy="588.0" r="5.50" fill="#165ea8"/>
<circle cx="1324.9" cy="592.2" r="5.50" fill="#165ea8"/>
<circle cx="1353.2" cy="593.3" r="5.50" fill="#165ea8"/>
<circle cx="1381.5" cy="591.7" r="5.50" fill="#165ea8"/>
<circle cx="1409.8" cy="588.9" r="5.50" fill="#165ea8"/>
<circle cx="1438.1" cy="570.4" r="5.50" fill="#165ea8"/>
<circle cx="1466.4" cy="482.0" r="5.50" fill="#165ea8"/>
<circle cx="1494.7" cy="458.0" r="5.50" fill="#165ea8"/>
<circle cx="1523.0" cy="579.3" r="5.50" fill="#165ea8"/>
<circle cx="1551.3" cy="576.4" r="5.50" fill="#165ea8"/>
<circle cx="1579.6" cy="575.5" r="5.50" fill="#165ea8"/>
<circle cx="1607.9" cy="586.8" r="5.50" fill="#165ea8"/>
<circle cx="1636.2" cy="577.9" r="5.50" fill="#165ea8"/>
<circle cx="1664.5" cy="573.4" r="5.50" fill="#165ea8"/>
<circle cx="1692.8" cy="593.6" r="5.50" fill="#165ea8"/>
<circle cx="1721.1" cy="588.9" r="5.50" fill="#165ea8"/>
<line x1="1133.9" y1="540.1" x2="1148.0" y2="552.3" stroke="#165ea8" stroke-width="2.9" stroke-linecap="round"/>
<line x1="1163.6" y1="561.8" x2="1174.9" y2="566.3" stroke="#165ea8" stroke-width="2.9" stroke-linecap="round"/>
<line x1="1192.3" y1="569.4" x2="1202.8" y2="569.1" stroke="#165ea8" stroke-width="2.9" stroke-linecap="round"/>
<line x1="1218.3" y1="575.6" x2="1233.4" y2="591.1" stroke="#165ea8" stroke-width="2.9" stroke-linecap="round"/>
<line x1="1248.9" y1="597.9" x2="1259.4" y2="598.0" stroke="#165ea8" stroke-width="2.9" stroke-linecap="round"/>
<line x1="1277.1" y1="596.1" x2="1287.8" y2="593.8" stroke="#165ea8" stroke-width="2.9" stroke-linecap="round"/>
<line x1="1305.5" y1="593.3" x2="1316.0" y2="595.1" stroke="#165ea8" stroke-width="2.9" stroke-linecap="round"/>
<line x1="1333.7" y1="594.7" x2="1344.4" y2="592.5" stroke="#165ea8" stroke-width="2.9" stroke-linecap="round"/>
<line x1="1362.1" y1="590.2" x2="1372.6" y2="589.7" stroke="#165ea8" stroke-width="2.9" stroke-linecap="round"/>
<line x1="1390.2" y1="591.9" x2="1401.1" y2="595.3" stroke="#165ea8" stroke-width="2.9" stroke-linecap="round"/>
<line x1="1412.0" y1="588.6" x2="1435.9" y2="487.0" stroke="#165ea8" stroke-width="2.9" stroke-linecap="round"/>
<line x1="1443.6" y1="469.9" x2="1460.9" y2="445.7" stroke="#165ea8" stroke-width="2.9" stroke-linecap="round"/>
<line x1="1470.9" y1="429.6" x2="1490.2" y2="393.7" stroke="#165ea8" stroke-width="2.9" stroke-linecap="round"/>
<line x1="1496.2" y1="394.8" x2="1521.5" y2="556.5" stroke="#165ea8" stroke-width="2.9" stroke-linecap="round"/>
<line x1="1530.1" y1="559.9" x2="1544.2" y2="547.7" stroke="#165ea8" stroke-width="2.9" stroke-linecap="round"/>
<line x1="1559.3" y1="546.2" x2="1571.6" y2="553.3" stroke="#165ea8" stroke-width="2.9" stroke-linecap="round"/>
<line x1="1587.4" y1="563.0" x2="1600.1" y2="571.3" stroke="#165ea8" stroke-width="2.9" stroke-linecap="round"/>
<line x1="1616.8" y1="575.5" x2="1627.3" y2="574.3" stroke="#165ea8" stroke-width="2.9" stroke-linecap="round"/>
<line x1="1645.0" y1="571.7" x2="1655.7" y2="569.7" stroke="#165ea8" stroke-width="2.9" stroke-linecap="round"/>
<line x1="1673.0" y1="571.3" x2="1684.3" y2="575.5" stroke="#165ea8" stroke-width="2.9" stroke-linecap="round"/>
<line x1="1700.4" y1="573.5" x2="1713.5" y2="564.4" stroke="#165ea8" stroke-width="2.9" stroke-linecap="round"/>
<rect x="1121.5" y="528.7" width="10.6" height="10.6" fill="#165ea8"/>
<rect x="1149.8" y="553.1" width="10.6" height="10.6" fill="#165ea8"/>
<rect x="1178.1" y="564.4" width="10.6" height="10.6" fill="#165ea8"/>
<rect x="1206.4" y="563.5" width="10.6" height="10.6" fill="#165ea8"/>
<rect x="1234.7" y="592.6" width="10.6" height="10.6" fill="#165ea8"/>
<rect x="1263.0" y="592.7" width="10.6" height="10.6" fill="#165ea8"/>
<rect x="1291.3" y="586.6" width="10.6" height="10.6" fill="#165ea8"/>
<rect x="1319.6" y="591.2" width="10.6" height="10.6" fill="#165ea8"/>
<rect x="1347.9" y="585.4" width="10.6" height="10.6" fill="#165ea8"/>
<rect x="1376.2" y="583.9" width="10.6" height="10.6" fill="#165ea8"/>
<rect x="1404.5" y="592.7" width="10.6" height="10.6" fill="#165ea8"/>
<rect x="1432.8" y="472.3" width="10.6" height="10.6" fill="#165ea8"/>
<rect x="1461.1" y="432.7" width="10.6" height="10.6" fill="#165ea8"/>
<rect x="1489.4" y="380.0" width="10.6" height="10.6" fill="#165ea8"/>
<rect x="1517.7" y="560.7" width="10.6" height="10.6" fill="#165ea8"/>
<rect x="1546.0" y="536.3" width="10.6" height="10.6" fill="#165ea8"/>
<rect x="1574.3" y="552.6" width="10.6" height="10.6" fill="#165ea8"/>
<rect x="1602.6" y="571.1" width="10.6" height="10.6" fill="#165ea8"/>
<rect x="1630.9" y="568.1" width="10.6" height="10.6" fill="#165ea8"/>
<rect x="1659.2" y="562.7" width="10.6" height="10.6" fill="#165ea8"/>
<rect x="1687.5" y="573.5" width="10.6" height="10.6" fill="#165ea8"/>
<rect x="1715.8" y="553.8" width="10.6" height="10.6" fill="#165ea8"/>
<line x1="1250.2" y1="344.1" x2="1258.1" y2="347.5" stroke="#165ea8" stroke-width="2.9" stroke-linecap="round"/>
<line x1="1274.3" y1="362.4" x2="1290.6" y2="390.6" stroke="#165ea8" stroke-width="2.9" stroke-linecap="round"/>
<line x1="1300.2" y1="389.4" x2="1321.3" y2="322.3" stroke="#165ea8" stroke-width="2.9" stroke-linecap="round"/>
<line x1="1335.4" y1="311.6" x2="1342.7" y2="312.1" stroke="#165ea8" stroke-width="2.9" stroke-linecap="round"/>
<line x1="1359.3" y1="302.7" x2="1375.4" y2="275.8" stroke="#165ea8" stroke-width="2.9" stroke-linecap="round"/>
<line x1="1391.9" y1="265.1" x2="1399.4" y2="264.7" stroke="#165ea8" stroke-width="2.9" stroke-linecap="round"/>
<line x1="1412.3" y1="252.4" x2="1435.6" y2="142.6" stroke="#165ea8" stroke-width="2.9" stroke-linecap="round"/>
<line x1="1448.6" y1="128.1" x2="1455.9" y2="126.2" stroke="#165ea8" stroke-width="2.9" stroke-linecap="round"/>
<line x1="1469.4" y1="135.4" x2="1491.7" y2="221.9" stroke="#165ea8" stroke-width="2.9" stroke-linecap="round"/>
<line x1="1498.0" y1="245.4" x2="1519.7" y2="321.4" stroke="#165ea8" stroke-width="2.9" stroke-linecap="round"/>
<line x1="1533.4" y1="336.7" x2="1540.9" y2="339.3" stroke="#165ea8" stroke-width="2.9" stroke-linecap="round"/>
<line x1="1558.1" y1="352.7" x2="1572.8" y2="373.7" stroke="#165ea8" stroke-width="2.9" stroke-linecap="round"/>
<line x1="1581.7" y1="371.5" x2="1605.8" y2="233.6" stroke="#165ea8" stroke-width="2.9" stroke-linecap="round"/>
<line x1="1618.4" y1="222.5" x2="1625.7" y2="223.1" stroke="#165ea8" stroke-width="2.9" stroke-linecap="round"/>
<line x1="1640.5" y1="235.4" x2="1660.2" y2="288.1" stroke="#165ea8" stroke-width="2.9" stroke-linecap="round"/>
<line x1="1672.4" y1="290.8" x2="1684.9" y2="277.3" stroke="#165ea8" stroke-width="2.9" stroke-linecap="round"/>
<line x1="1701.7" y1="261.3" x2="1712.2" y2="252.7" stroke="#165ea8" stroke-width="2.9" stroke-linecap="round"/>
<polygon points="1240.0,332.5 1231.9,346.4 1248.1,346.4" fill="#165ea8"/>
<polygon points="1268.3,344.9 1260.2,358.8 1276.4,358.8" fill="#165ea8"/>
<polygon points="1296.6,393.9 1288.5,407.8 1304.7,407.8" fill="#165ea8"/>
<polygon points="1324.9,303.6 1316.8,317.5 1333.0,317.5" fill="#165ea8"/>
<polygon points="1353.2,305.9 1345.1,319.8 1361.3,319.8" fill="#165ea8"/>
<polygon points="1381.5,258.4 1373.4,272.3 1389.6,272.3" fill="#165ea8"/>
<polygon points="1409.8,257.2 1401.7,271.1 1417.9,271.1" fill="#165ea8"/>
<polygon points="1438.1,123.6 1430.0,137.5 1446.2,137.5" fill="#165ea8"/>
<polygon points="1466.4,116.5 1458.3,130.4 1474.5,130.4" fill="#165ea8"/>
<polygon points="1494.7,226.6 1486.6,240.5 1502.8,240.5" fill="#165ea8"/>
<polygon points="1523.0,326.0 1514.9,339.9 1531.1,339.9" fill="#165ea8"/>
<polygon points="1551.3,335.8 1543.2,349.7 1559.4,349.7" fill="#165ea8"/>
<polygon points="1579.6,376.4 1571.5,390.3 1587.7,390.3" fill="#165ea8"/>
<polygon points="1607.9,214.5 1599.8,228.4 1616.0,228.4" fill="#165ea8"/>
<polygon points="1636.2,216.9 1628.1,230.8 1644.3,230.8" fill="#165ea8"/>
<polygon points="1664.5,292.4 1656.4,306.3 1672.6,306.3" fill="#165ea8"/>
<polygon points="1692.8,261.5 1684.7,275.4 1700.9,275.4" fill="#165ea8"/>
<polygon points="1721.1,238.3 1713.0,252.2 1729.2,252.2" fill="#165ea8"/>
<line x1="1136.2" y1="606.5" x2="1145.6" y2="606.5" stroke="#b31e26" stroke-width="3" stroke-dasharray="3 5.5" stroke-dashoffset="0" stroke-linecap="round"/>
<line x1="1164.5" y1="606.5" x2="1173.9" y2="606.5" stroke="#b31e26" stroke-width="3" stroke-dasharray="3 5.5" stroke-dashoffset="0" stroke-linecap="round"/>
<line x1="1192.8" y1="606.5" x2="1202.2" y2="606.5" stroke="#b31e26" stroke-width="3" stroke-dasharray="3 5.5" stroke-dashoffset="0" stroke-linecap="round"/>
<line x1="1221.2" y1="606.5" x2="1230.5" y2="606.5" stroke="#b31e26" stroke-width="3" stroke-dasharray="3 5.5" stroke-dashoffset="0" stroke-linecap="round"/>
<line x1="1249.5" y1="606.5" x2="1258.8" y2="606.5" stroke="#b31e26" stroke-width="3" stroke-dasharray="3 5.5" stroke-dashoffset="0" stroke-linecap="round"/>
<line x1="1277.8" y1="606.5" x2="1287.1" y2="606.5" stroke="#b31e26" stroke-width="3" stroke-dasharray="3 5.5" stroke-dashoffset="0" stroke-linecap="round"/>
<line x1="1306.0" y1="606.5" x2="1315.4" y2="606.5" stroke="#b31e26" stroke-width="3" stroke-dasharray="3 5.5" stroke-dashoffset="0" stroke-linecap="round"/>
<line x1="1334.3" y1="606.5" x2="1343.8" y2="606.5" stroke="#b31e26" stroke-width="3" stroke-dasharray="3 5.5" stroke-dashoffset="0" stroke-linecap="round"/>
<line x1="1362.7" y1="606.5" x2="1372.0" y2="606.5" stroke="#b31e26" stroke-width="3" stroke-dasharray="3 5.5" stroke-dashoffset="0" stroke-linecap="round"/>
<line x1="1391.0" y1="606.5" x2="1400.3" y2="606.5" stroke="#b31e26" stroke-width="3" stroke-dasharray="3 5.5" stroke-dashoffset="0" stroke-linecap="round"/>
<line x1="1419.3" y1="606.3" x2="1428.6" y2="606.2" stroke="#b31e26" stroke-width="3" stroke-dasharray="3 5.5" stroke-dashoffset="0" stroke-linecap="round"/>
<line x1="1447.6" y1="605.8" x2="1456.9" y2="605.7" stroke="#b31e26" stroke-width="3" stroke-dasharray="3 5.5" stroke-dashoffset="0" stroke-linecap="round"/>
<line x1="1475.8" y1="604.9" x2="1485.3" y2="604.3" stroke="#b31e26" stroke-width="3" stroke-dasharray="3 5.5" stroke-dashoffset="0" stroke-linecap="round"/>
<line x1="1504.1" y1="604.6" x2="1513.6" y2="605.4" stroke="#b31e26" stroke-width="3" stroke-dasharray="3 5.5" stroke-dashoffset="0" stroke-linecap="round"/>
<line x1="1532.5" y1="606.3" x2="1541.8" y2="606.3" stroke="#b31e26" stroke-width="3" stroke-dasharray="3 5.5" stroke-dashoffset="0" stroke-linecap="round"/>
<line x1="1560.8" y1="606.3" x2="1570.1" y2="606.3" stroke="#b31e26" stroke-width="3" stroke-dasharray="3 5.5" stroke-dashoffset="0" stroke-linecap="round"/>
<line x1="1589.0" y1="606.3" x2="1598.5" y2="606.3" stroke="#b31e26" stroke-width="3" stroke-dasharray="3 5.5" stroke-dashoffset="0" stroke-linecap="round"/>
<line x1="1617.4" y1="606.3" x2="1626.8" y2="606.3" stroke="#b31e26" stroke-width="3" stroke-dasharray="3 5.5" stroke-dashoffset="0" stroke-linecap="round"/>
<line x1="1645.7" y1="606.3" x2="1655.0" y2="606.3" stroke="#b31e26" stroke-width="3" stroke-dasharray="3 5.5" stroke-dashoffset="0" stroke-linecap="round"/>
<line x1="1674.0" y1="606.3" x2="1683.3" y2="606.3" stroke="#b31e26" stroke-width="3" stroke-dasharray="3 5.5" stroke-dashoffset="0" stroke-linecap="round"/>
<line x1="1702.2" y1="606.3" x2="1711.6" y2="606.3" stroke="#b31e26" stroke-width="3" stroke-dasharray="3 5.5" stroke-dashoffset="0" stroke-linecap="round"/>
<circle cx="1126.8" cy="606.5" r="5.10" fill="none" stroke="#b31e26" stroke-width="2.80"/>
<circle cx="1155.1" cy="606.5" r="5.10" fill="none" stroke="#b31e26" stroke-width="2.80"/>
<circle cx="1183.4" cy="606.5" r="5.10" fill="none" stroke="#b31e26" stroke-width="2.80"/>
<circle cx="1211.7" cy="606.5" r="5.10" fill="none" stroke="#b31e26" stroke-width="2.80"/>
<circle cx="1240.0" cy="606.5" r="5.10" fill="none" stroke="#b31e26" stroke-width="2.80"/>
<circle cx="1268.3" cy="606.5" r="5.10" fill="none" stroke="#b31e26" stroke-width="2.80"/>
<circle cx="1296.6" cy="606.5" r="5.10" fill="none" stroke="#b31e26" stroke-width="2.80"/>
<circle cx="1324.9" cy="606.5" r="5.10" fill="none" stroke="#b31e26" stroke-width="2.80"/>
<circle cx="1353.2" cy="606.5" r="5.10" fill="none" stroke="#b31e26" stroke-width="2.80"/>
<circle cx="1381.5" cy="606.5" r="5.10" fill="none" stroke="#b31e26" stroke-width="2.80"/>
<circle cx="1409.8" cy="606.5" r="5.10" fill="none" stroke="#b31e26" stroke-width="2.80"/>
<circle cx="1438.1" cy="606.0" r="5.10" fill="none" stroke="#b31e26" stroke-width="2.80"/>
<circle cx="1466.4" cy="605.5" r="5.10" fill="none" stroke="#b31e26" stroke-width="2.80"/>
<circle cx="1494.7" cy="603.7" r="5.10" fill="none" stroke="#b31e26" stroke-width="2.80"/>
<circle cx="1523.0" cy="606.3" r="5.10" fill="none" stroke="#b31e26" stroke-width="2.80"/>
<circle cx="1551.3" cy="606.3" r="5.10" fill="none" stroke="#b31e26" stroke-width="2.80"/>
<circle cx="1579.6" cy="606.3" r="5.10" fill="none" stroke="#b31e26" stroke-width="2.80"/>
<circle cx="1607.9" cy="606.3" r="5.10" fill="none" stroke="#b31e26" stroke-width="2.80"/>
<circle cx="1636.2" cy="606.3" r="5.10" fill="none" stroke="#b31e26" stroke-width="2.80"/>
<circle cx="1664.5" cy="606.3" r="5.10" fill="none" stroke="#b31e26" stroke-width="2.80"/>
<circle cx="1692.8" cy="606.3" r="5.10" fill="none" stroke="#b31e26" stroke-width="2.80"/>
<circle cx="1721.1" cy="606.3" r="5.10" fill="none" stroke="#b31e26" stroke-width="2.80"/>
<line x1="1136.0" y1="606.3" x2="1145.8" y2="606.3" stroke="#b31e26" stroke-width="3" stroke-dasharray="6 8" stroke-dashoffset="0" stroke-linecap="round"/>
<line x1="1164.3" y1="606.3" x2="1174.1" y2="606.3" stroke="#b31e26" stroke-width="3" stroke-dasharray="6 8" stroke-dashoffset="0" stroke-linecap="round"/>
<line x1="1192.6" y1="606.3" x2="1202.5" y2="606.3" stroke="#b31e26" stroke-width="3" stroke-dasharray="6 8" stroke-dashoffset="0" stroke-linecap="round"/>
<line x1="1221.0" y1="606.3" x2="1230.8" y2="606.3" stroke="#b31e26" stroke-width="3" stroke-dasharray="6 8" stroke-dashoffset="0" stroke-linecap="round"/>
<line x1="1249.2" y1="606.3" x2="1259.0" y2="606.3" stroke="#b31e26" stroke-width="3" stroke-dasharray="6 8" stroke-dashoffset="0" stroke-linecap="round"/>
<line x1="1277.5" y1="606.3" x2="1287.3" y2="606.3" stroke="#b31e26" stroke-width="3" stroke-dasharray="6 8" stroke-dashoffset="0" stroke-linecap="round"/>
<line x1="1305.8" y1="606.3" x2="1315.6" y2="606.3" stroke="#b31e26" stroke-width="3" stroke-dasharray="6 8" stroke-dashoffset="0" stroke-linecap="round"/>
<line x1="1334.1" y1="606.3" x2="1344.0" y2="606.3" stroke="#b31e26" stroke-width="3" stroke-dasharray="6 8" stroke-dashoffset="0" stroke-linecap="round"/>
<line x1="1362.5" y1="606.3" x2="1372.2" y2="606.3" stroke="#b31e26" stroke-width="3" stroke-dasharray="6 8" stroke-dashoffset="0" stroke-linecap="round"/>
<line x1="1390.8" y1="606.3" x2="1400.5" y2="606.3" stroke="#b31e26" stroke-width="3" stroke-dasharray="6 8" stroke-dashoffset="0" stroke-linecap="round"/>
<line x1="1419.0" y1="604.8" x2="1428.9" y2="603.2" stroke="#b31e26" stroke-width="3" stroke-dasharray="6 8" stroke-dashoffset="0" stroke-linecap="round"/>
<line x1="1446.0" y1="596.3" x2="1458.5" y2="587.7" stroke="#b31e26" stroke-width="3" stroke-dasharray="6 8" stroke-dashoffset="0" stroke-linecap="round"/>
<line x1="1469.2" y1="572.9" x2="1491.9" y2="498.0" stroke="#b31e26" stroke-width="3" stroke-dasharray="6 8" stroke-dashoffset="0" stroke-linecap="round"/>
<line x1="1497.0" y1="498.2" x2="1520.7" y2="596.5" stroke="#b31e26" stroke-width="3" stroke-dasharray="6 8" stroke-dashoffset="0" stroke-linecap="round"/>
<line x1="1532.2" y1="606.1" x2="1542.0" y2="606.1" stroke="#b31e26" stroke-width="3" stroke-dasharray="6 8" stroke-dashoffset="0" stroke-linecap="round"/>
<line x1="1560.5" y1="606.1" x2="1570.3" y2="606.1" stroke="#b31e26" stroke-width="3" stroke-dasharray="6 8" stroke-dashoffset="0" stroke-linecap="round"/>
<line x1="1588.8" y1="606.1" x2="1598.7" y2="606.1" stroke="#b31e26" stroke-width="3" stroke-dasharray="6 8" stroke-dashoffset="0" stroke-linecap="round"/>
<line x1="1617.2" y1="606.1" x2="1627.0" y2="606.1" stroke="#b31e26" stroke-width="3" stroke-dasharray="6 8" stroke-dashoffset="0" stroke-linecap="round"/>
<line x1="1645.5" y1="606.1" x2="1655.2" y2="606.1" stroke="#b31e26" stroke-width="3" stroke-dasharray="6 8" stroke-dashoffset="0" stroke-linecap="round"/>
<line x1="1673.8" y1="606.1" x2="1683.5" y2="606.1" stroke="#b31e26" stroke-width="3" stroke-dasharray="6 8" stroke-dashoffset="0" stroke-linecap="round"/>
<line x1="1702.0" y1="606.1" x2="1711.8" y2="606.1" stroke="#b31e26" stroke-width="3" stroke-dasharray="6 8" stroke-dashoffset="0" stroke-linecap="round"/>
<rect x="1121.9" y="601.4" width="9.8" height="9.8" fill="none" stroke="#b31e26" stroke-width="3.30"/>
<rect x="1150.2" y="601.4" width="9.8" height="9.8" fill="none" stroke="#b31e26" stroke-width="3.30"/>
<rect x="1178.5" y="601.4" width="9.8" height="9.8" fill="none" stroke="#b31e26" stroke-width="3.30"/>
<rect x="1206.8" y="601.4" width="9.8" height="9.8" fill="none" stroke="#b31e26" stroke-width="3.30"/>
<rect x="1235.1" y="601.4" width="9.8" height="9.8" fill="none" stroke="#b31e26" stroke-width="3.30"/>
<rect x="1263.4" y="601.4" width="9.8" height="9.8" fill="none" stroke="#b31e26" stroke-width="3.30"/>
<rect x="1291.7" y="601.4" width="9.8" height="9.8" fill="none" stroke="#b31e26" stroke-width="3.30"/>
<rect x="1320.0" y="601.4" width="9.8" height="9.8" fill="none" stroke="#b31e26" stroke-width="3.30"/>
<rect x="1348.3" y="601.4" width="9.8" height="9.8" fill="none" stroke="#b31e26" stroke-width="3.30"/>
<rect x="1376.6" y="601.4" width="9.8" height="9.8" fill="none" stroke="#b31e26" stroke-width="3.30"/>
<rect x="1404.9" y="601.4" width="9.8" height="9.8" fill="none" stroke="#b31e26" stroke-width="3.30"/>
<rect x="1433.2" y="596.8" width="9.8" height="9.8" fill="none" stroke="#b31e26" stroke-width="3.30"/>
<rect x="1461.5" y="577.4" width="9.8" height="9.8" fill="none" stroke="#b31e26" stroke-width="3.30"/>
<rect x="1489.8" y="483.7" width="9.8" height="9.8" fill="none" stroke="#b31e26" stroke-width="3.30"/>
<rect x="1518.1" y="601.2" width="9.8" height="9.8" fill="none" stroke="#b31e26" stroke-width="3.30"/>
<rect x="1546.4" y="601.2" width="9.8" height="9.8" fill="none" stroke="#b31e26" stroke-width="3.30"/>
<rect x="1574.7" y="601.2" width="9.8" height="9.8" fill="none" stroke="#b31e26" stroke-width="3.30"/>
<rect x="1603.0" y="601.2" width="9.8" height="9.8" fill="none" stroke="#b31e26" stroke-width="3.30"/>
<rect x="1631.3" y="601.2" width="9.8" height="9.8" fill="none" stroke="#b31e26" stroke-width="3.30"/>
<rect x="1659.6" y="601.2" width="9.8" height="9.8" fill="none" stroke="#b31e26" stroke-width="3.30"/>
<rect x="1687.9" y="601.2" width="9.8" height="9.8" fill="none" stroke="#b31e26" stroke-width="3.30"/>
<rect x="1716.2" y="601.2" width="9.8" height="9.8" fill="none" stroke="#b31e26" stroke-width="3.30"/>
<line x1="1243.3" y1="538.4" x2="1265.0" y2="464.8" stroke="#b31e26" stroke-width="3" stroke-dasharray="6 8" stroke-dashoffset="0" stroke-linecap="round"/>
<line x1="1273.5" y1="464.0" x2="1291.4" y2="499.0" stroke="#b31e26" stroke-width="3" stroke-dasharray="6 8" stroke-dashoffset="0" stroke-linecap="round"/>
<line x1="1306.3" y1="514.6" x2="1315.2" y2="519.5" stroke="#b31e26" stroke-width="3" stroke-dasharray="6 8" stroke-dashoffset="0" stroke-linecap="round"/>
<line x1="1329.1" y1="514.0" x2="1349.0" y2="463.7" stroke="#b31e26" stroke-width="3" stroke-dasharray="6 8" stroke-dashoffset="0" stroke-linecap="round"/>
<line x1="1359.7" y1="462.3" x2="1375.0" y2="484.1" stroke="#b31e26" stroke-width="3" stroke-dasharray="6 8" stroke-dashoffset="0" stroke-linecap="round"/>
<line x1="1382.9" y1="481.9" x2="1408.4" y2="264.0" stroke="#b31e26" stroke-width="3" stroke-dasharray="6 8" stroke-dashoffset="0" stroke-linecap="round"/>
<line x1="1412.4" y1="241.1" x2="1435.5" y2="142.6" stroke="#b31e26" stroke-width="3" stroke-dasharray="6 8" stroke-dashoffset="0" stroke-linecap="round"/>
<line x1="1448.6" y1="133.3" x2="1455.9" y2="134.7" stroke="#b31e26" stroke-width="3" stroke-dasharray="6 8" stroke-dashoffset="0" stroke-linecap="round"/>
<line x1="1468.7" y1="148.1" x2="1492.4" y2="265.8" stroke="#b31e26" stroke-width="3" stroke-dasharray="6 8" stroke-dashoffset="0" stroke-linecap="round"/>
<line x1="1496.1" y1="288.8" x2="1521.6" y2="497.8" stroke="#b31e26" stroke-width="3" stroke-dasharray="6 8" stroke-dashoffset="0" stroke-linecap="round"/>
<line x1="1524.8" y1="497.9" x2="1549.5" y2="343.1" stroke="#b31e26" stroke-width="3" stroke-dasharray="6 8" stroke-dashoffset="0" stroke-linecap="round"/>
<line x1="1554.4" y1="342.8" x2="1576.5" y2="423.8" stroke="#b31e26" stroke-width="3" stroke-dasharray="6 8" stroke-dashoffset="0" stroke-linecap="round"/>
<line x1="1581.1" y1="423.5" x2="1606.4" y2="233.1" stroke="#b31e26" stroke-width="3" stroke-dasharray="6 8" stroke-dashoffset="0" stroke-linecap="round"/>
<line x1="1618.4" y1="220.3" x2="1625.7" y2="219.3" stroke="#b31e26" stroke-width="3" stroke-dasharray="6 8" stroke-dashoffset="0" stroke-linecap="round"/>
<line x1="1639.9" y1="229.0" x2="1660.8" y2="290.9" stroke="#b31e26" stroke-width="3" stroke-dasharray="6 8" stroke-dashoffset="0" stroke-linecap="round"/>
<line x1="1671.9" y1="293.2" x2="1685.4" y2="277.3" stroke="#b31e26" stroke-width="3" stroke-dasharray="6 8" stroke-dashoffset="0" stroke-linecap="round"/>
<line x1="1703.2" y1="268.6" x2="1710.6" y2="268.6" stroke="#b31e26" stroke-width="3" stroke-dasharray="6 8" stroke-dashoffset="0" stroke-linecap="round"/>
<polygon points="1240.0,543.5 1233.0,555.5 1247.0,555.5" fill="none" stroke="#b31e26" stroke-width="3.2" stroke-linejoin="round"/>
<polygon points="1268.3,447.7 1261.2,459.7 1275.3,459.7" fill="none" stroke="#b31e26" stroke-width="3.2" stroke-linejoin="round"/>
<polygon points="1296.6,503.3 1289.5,515.3 1303.6,515.3" fill="none" stroke="#b31e26" stroke-width="3.2" stroke-linejoin="round"/>
<polygon points="1324.9,518.8 1317.8,530.8 1331.9,530.8" fill="none" stroke="#b31e26" stroke-width="3.2" stroke-linejoin="round"/>
<polygon points="1353.2,446.9 1346.2,458.9 1360.2,458.9" fill="none" stroke="#b31e26" stroke-width="3.2" stroke-linejoin="round"/>
<polygon points="1381.5,487.5 1374.5,499.5 1388.5,499.5" fill="none" stroke="#b31e26" stroke-width="3.2" stroke-linejoin="round"/>
<polygon points="1409.8,246.4 1402.8,258.4 1416.8,258.4" fill="none" stroke="#b31e26" stroke-width="3.2" stroke-linejoin="round"/>
<polygon points="1438.1,125.3 1431.0,137.3 1445.1,137.3" fill="none" stroke="#b31e26" stroke-width="3.2" stroke-linejoin="round"/>
<polygon points="1466.4,130.7 1459.4,142.7 1473.5,142.7" fill="none" stroke="#b31e26" stroke-width="3.2" stroke-linejoin="round"/>
<polygon points="1494.7,271.2 1487.7,283.2 1501.8,283.2" fill="none" stroke="#b31e26" stroke-width="3.2" stroke-linejoin="round"/>
<polygon points="1523.0,503.4 1516.0,515.4 1530.0,515.4" fill="none" stroke="#b31e26" stroke-width="3.2" stroke-linejoin="round"/>
<polygon points="1551.3,325.6 1544.2,337.6 1558.3,337.6" fill="none" stroke="#b31e26" stroke-width="3.2" stroke-linejoin="round"/>
<polygon points="1579.6,429.0 1572.5,441.0 1586.6,441.0" fill="none" stroke="#b31e26" stroke-width="3.2" stroke-linejoin="round"/>
<polygon points="1607.9,215.6 1600.9,227.6 1615.0,227.6" fill="none" stroke="#b31e26" stroke-width="3.2" stroke-linejoin="round"/>
<polygon points="1636.2,212.0 1629.2,224.0 1643.2,224.0" fill="none" stroke="#b31e26" stroke-width="3.2" stroke-linejoin="round"/>
<polygon points="1664.5,295.9 1657.5,307.9 1671.5,307.9" fill="none" stroke="#b31e26" stroke-width="3.2" stroke-linejoin="round"/>
<polygon points="1692.8,262.6 1685.8,274.6 1699.8,274.6" fill="none" stroke="#b31e26" stroke-width="3.2" stroke-linejoin="round"/>
<polygon points="1721.1,262.6 1714.0,274.6 1728.1,274.6" fill="none" stroke="#b31e26" stroke-width="3.2" stroke-linejoin="round"/>
<rect x="141.7" y="76.6" width="11.5" height="2.4" fill="#165ea8"/>
<rect x="165.2" y="76.6" width="11.5" height="2.4" fill="#165ea8"/>
<circle cx="159.0" cy="77.8" r="4.4" fill="#165ea8"/>
<text transform="translate(180.7,81.0) scale(1,0.93)" font-size="23"><tspan font-style="italic">d</tspan><tspan font-style="italic" font-size="13.5" dy="7.6">N</tspan><tspan dy="-6.4">_</tspan><tspan font-style="italic" dy="-1.2">mt</tspan></text>
<rect x="141.7" y="98.5" width="11.4" height="2.4" fill="#165ea8"/>
<rect x="165.0" y="98.5" width="11.7" height="2.4" fill="#165ea8"/>
<rect x="154.3" y="95.0" width="9.4" height="9.4" fill="#165ea8"/>
<text transform="translate(180.7,106.6) scale(1,0.93)" font-size="23"><tspan font-style="italic">d</tspan><tspan font-style="italic" font-size="13.5" dy="7.6">N</tspan><tspan dy="-6.4">_</tspan><tspan dy="-1.2">t</tspan></text>
<rect x="141.7" y="123.2" width="10.2" height="2.4" fill="#165ea8"/>
<rect x="166.0" y="123.2" width="10.7" height="2.4" fill="#165ea8"/>
<polygon points="159.0,117.2 152.0,129.1 166.0,129.1" fill="#165ea8"/>
<text transform="translate(180.7,131.8) scale(1,0.93)" font-size="23"><tspan font-style="italic">d</tspan><tspan font-style="italic" font-size="13.5" dy="7.6">N</tspan><tspan dy="-6.4">_</tspan><tspan dy="-1.2">n</tspan></text>
<rect x="141.3" y="151.4" width="5.6" height="2.4" fill="#b31e26"/>
<rect x="149.1" y="151.4" width="4.1" height="2.4" fill="#b31e26"/>
<rect x="165.0" y="151.4" width="4.9" height="2.4" fill="#b31e26"/>
<rect x="172.1" y="151.4" width="4.3" height="2.4" fill="#b31e26"/>
<circle cx="159.0" cy="152.6" r="4.7" fill="none" stroke="#b31e26" stroke-width="1.9"/>
<text transform="translate(180.7,158.0) scale(1,0.93)" font-size="23"><tspan font-style="italic">d</tspan><tspan font-style="italic" font-size="13.5" dy="7.6">S</tspan><tspan dy="-6.4">_</tspan><tspan dy="-1.2">mt</tspan></text>
<rect x="141.3" y="176.6" width="7.8" height="2.4" fill="#b31e26"/>
<rect x="168.2" y="176.6" width="7.4" height="2.4" fill="#b31e26"/>
<rect x="154.4" y="173.2" width="9.1" height="9.1" fill="none" stroke="#b31e26" stroke-width="2.2"/>
<text transform="translate(180.7,183.6) scale(1,0.93)" font-size="23"><tspan font-style="italic">d</tspan><tspan font-style="italic" font-size="13.5" dy="7.6">S</tspan><tspan dy="-6.4">_</tspan><tspan dy="-1.2">t</tspan></text>
<rect x="141.3" y="204.3" width="7.8" height="2.4" fill="#b31e26"/>
<rect x="168.2" y="204.3" width="7.4" height="2.4" fill="#b31e26"/>
<polygon points="159.0,198.9 153.2,209.3 164.8,209.3" fill="none" stroke="#b31e26" stroke-width="2.2"/>
<text transform="translate(180.7,209.6) scale(1,0.93)" font-size="23"><tspan font-style="italic">d</tspan><tspan font-style="italic" font-size="13.5" dy="7.6">S</tspan><tspan dy="-6.4">_</tspan><tspan dy="-1.2">n</tspan></text>
<rect x="1081.1" y="76.6" width="11.5" height="2.4" fill="#165ea8"/>
<rect x="1104.6" y="76.6" width="11.5" height="2.4" fill="#165ea8"/>
<circle cx="1098.4" cy="77.8" r="4.4" fill="#165ea8"/>
<text transform="translate(1120.1,81.0) scale(1,0.93)" font-size="23"><tspan font-style="italic">R</tspan><tspan font-style="italic" font-size="13.5" dy="7.6">N</tspan><tspan dy="-6.4">_</tspan><tspan dy="-1.2">mt*1000</tspan></text>
<rect x="1081.1" y="98.5" width="11.4" height="2.4" fill="#165ea8"/>
<rect x="1104.4" y="98.5" width="11.7" height="2.4" fill="#165ea8"/>
<rect x="1093.7" y="95.0" width="9.4" height="9.4" fill="#165ea8"/>
<text transform="translate(1120.1,106.6) scale(1,0.93)" font-size="23"><tspan font-style="italic">R</tspan><tspan font-style="italic" font-size="13.5" dy="7.6">N</tspan><tspan dy="-6.4">_</tspan><tspan dy="-1.2">t*1000</tspan></text>
<rect x="1081.1" y="123.2" width="10.2" height="2.4" fill="#165ea8"/>
<rect x="1105.4" y="123.2" width="10.7" height="2.4" fill="#165ea8"/>
<polygon points="1098.4,117.2 1091.4,129.1 1105.4,129.1" fill="#165ea8"/>
<text transform="translate(1120.1,131.8) scale(1,0.93)" font-size="23"><tspan font-style="italic">R</tspan><tspan font-style="italic" font-size="13.5" dy="7.6">N</tspan><tspan dy="-6.4">_</tspan><tspan dy="-1.2">n*1000</tspan></text>
<rect x="1080.7" y="151.4" width="5.6" height="2.4" fill="#b31e26"/>
<rect x="1088.5" y="151.4" width="4.1" height="2.4" fill="#b31e26"/>
<rect x="1104.4" y="151.4" width="4.9" height="2.4" fill="#b31e26"/>
<rect x="1111.5" y="151.4" width="4.3" height="2.4" fill="#b31e26"/>
<circle cx="1098.4" cy="152.6" r="4.7" fill="none" stroke="#b31e26" stroke-width="1.9"/>
<text transform="translate(1120.1,158.0) scale(1,0.93)" font-size="23"><tspan font-style="italic">R</tspan><tspan font-style="italic" font-size="13.5" dy="7.6">S</tspan><tspan dy="-6.4">_</tspan><tspan dy="-1.2">mt*1000</tspan></text>
<rect x="1080.7" y="176.6" width="7.8" height="2.4" fill="#b31e26"/>
<rect x="1107.6" y="176.6" width="7.4" height="2.4" fill="#b31e26"/>
<rect x="1093.8" y="173.2" width="9.1" height="9.1" fill="none" stroke="#b31e26" stroke-width="2.2"/>
<text transform="translate(1120.1,183.6) scale(1,0.93)" font-size="23"><tspan font-style="italic">R</tspan><tspan font-style="italic" font-size="13.5" dy="7.6">S</tspan><tspan dy="-6.4">_</tspan><tspan dy="-1.2">t*1000</tspan></text>
<rect x="1080.7" y="204.3" width="7.8" height="2.4" fill="#b31e26"/>
<rect x="1107.6" y="204.3" width="7.4" height="2.4" fill="#b31e26"/>
<polygon points="1098.4,198.9 1092.6,209.3 1104.2,209.3" fill="none" stroke="#b31e26" stroke-width="2.2"/>
<text transform="translate(1120.1,209.6) scale(1,0.93)" font-size="23"><tspan font-style="italic">R</tspan><tspan font-style="italic" font-size="13.5" dy="7.6">S</tspan><tspan dy="-6.4">_</tspan><tspan dy="-1.2">n*1000</tspan></text>
<text x="61" y="33.3" font-size="44" font-weight="bold">(a)</text>
<text x="1012" y="33.3" font-size="44" font-weight="bold">(b)</text>
<text transform="translate(29.3,348.5) rotate(-90)" font-size="37"><tspan font-style="italic">d</tspan><tspan font-size="22.5" font-style="italic" dy="12">N</tspan></text>
<text transform="translate(927.2,356.3) rotate(-90)" font-size="37"><tspan font-style="italic">d</tspan><tspan font-size="22" dy="11">S</tspan></text>
<text transform="translate(995.6,443) rotate(-90)" font-size="33" font-style="italic">R</text>
<text transform="translate(1006.9,421) rotate(-90)" font-size="19.5" font-style="italic">N</text>
<text transform="translate(995,405) rotate(-90) scale(1,1.12)" font-size="28.5" font-style="italic">*</text>
<text transform="translate(995.6,388.5) rotate(-90) scale(1,1.12)" font-size="31.5" font-style="italic">1000</text>
<text transform="translate(1933.1,445) rotate(-90)" font-size="33" font-style="italic">R</text>
<text transform="translate(1943.9,420) rotate(-90) scale(1,1.08)" font-size="20">S</text>
<text transform="translate(1931,406) rotate(-90) scale(1,1.12)" font-size="28" font-style="italic">*</text>
<text transform="translate(1933.1,388) rotate(-90) scale(1,1.12)" font-size="30" font-style="italic">1000</text>
<text transform="translate(104.5,801.3) rotate(-60)" font-size="23.5">Ophioglossum</text>
<text transform="translate(132.9,801.3) rotate(-60)" font-size="23.5">Psilotum</text>
<text transform="translate(161.3,801.3) rotate(-60)" font-size="23.5">Amborella</text>
<text transform="translate(189.7,801.3) rotate(-60)" font-size="23.5">Liriodendron</text>
<text transform="translate(218.1,801.3) rotate(-60)" font-size="23.5">Cycas</text>
<text transform="translate(246.5,801.3) rotate(-60)" font-size="23.5">Zamia</text>
<text transform="translate(274.9,801.3) rotate(-60)" font-size="23.5">Ginkgo</text>
<text transform="translate(303.3,801.3) rotate(-60)" font-size="23.5">Abies</text>
<text transform="translate(331.7,801.3) rotate(-60)" font-size="23.5">Cedrus</text>
<text transform="translate(360.1,801.3) rotate(-60)" font-size="23.5">Pinus</text>
<text transform="translate(388.5,801.3) rotate(-60)" font-size="23.5">Picea</text>
<text transform="translate(416.9,801.3) rotate(-60)" font-size="23.5">Gnetum</text>
<text transform="translate(445.3,801.3) rotate(-60)" font-size="23.5">Welwitschia</text>
<text transform="translate(473.7,801.3) rotate(-60)" font-size="23.5">Ephedra</text>
<text transform="translate(502.1,801.3) rotate(-60)" font-size="23.5">Podocarpus</text>
<text transform="translate(530.5,801.3) rotate(-60)" font-size="23.5">Araucaria</text>
<text transform="translate(558.9,801.3) rotate(-60)" font-size="23.5">Sciadopitys</text>
<text transform="translate(587.3,801.3) rotate(-60)" font-size="23.5">Cephalotaxus</text>
<text transform="translate(615.7,801.3) rotate(-60)" font-size="23.5">Taxus</text>
<text transform="translate(644.1,801.3) rotate(-60)" font-size="23.5">Cunninghamia</text>
<text transform="translate(672.5,801.3) rotate(-60)" font-size="23.5">Taiwania</text>
<text transform="translate(700.9,801.3) rotate(-60)" font-size="23.5">Metasequoia</text>
<text transform="translate(729.3,801.3) rotate(-60)" font-size="23.5">Platycladus</text>
<text transform="translate(1060.5,798) rotate(-60)" font-size="23.5">Ophioglossum</text>
<text transform="translate(1089.0,798) rotate(-60)" font-size="23.5">Psilotum</text>
<text transform="translate(1117.4,798) rotate(-60)" font-size="23.5">Amborella</text>
<text transform="translate(1145.8,798) rotate(-60)" font-size="23.5">Liriodendron</text>
<text transform="translate(1174.3,798) rotate(-60)" font-size="23.5">Cycas</text>
<text transform="translate(1202.8,798) rotate(-60)" font-size="23.5">Zamia</text>
<text transform="translate(1231.2,798) rotate(-60)" font-size="23.5">Ginkgo</text>
<text transform="translate(1259.7,798) rotate(-60)" font-size="23.5">Abies</text>
<text transform="translate(1288.1,798) rotate(-60)" font-size="23.5">Cedrus</text>
<text transform="translate(1316.5,798) rotate(-60)" font-size="23.5">Pinus</text>
<text transform="translate(1345.0,798) rotate(-60)" font-size="23.5">Picea</text>
<text transform="translate(1373.5,798) rotate(-60)" font-size="23.5">Gnetum</text>
<text transform="translate(1401.9,798) rotate(-60)" font-size="23.5">Welwitschia</text>
<text transform="translate(1430.3,798) rotate(-60)" font-size="23.5">Ephedra</text>
<text transform="translate(1458.8,798) rotate(-60)" font-size="23.5">Podocarpus</text>
<text transform="translate(1487.2,798) rotate(-60)" font-size="23.5">Araucaria</text>
<text transform="translate(1515.7,798) rotate(-60)" font-size="23.5">Sciadopitys</text>
<text transform="translate(1544.2,798) rotate(-60)" font-size="23.5">Cephalotaxus</text>
<text transform="translate(1572.6,798) rotate(-60)" font-size="23.5">Taxus</text>
<text transform="translate(1601.0,798) rotate(-60)" font-size="23.5">Cunninghamia</text>
<text transform="translate(1629.5,798) rotate(-60)" font-size="23.5">Metasequoia</text>
<text transform="translate(1657.9,798) rotate(-60)" font-size="23.5">Platycladus</text>
</svg>
</body></html>
